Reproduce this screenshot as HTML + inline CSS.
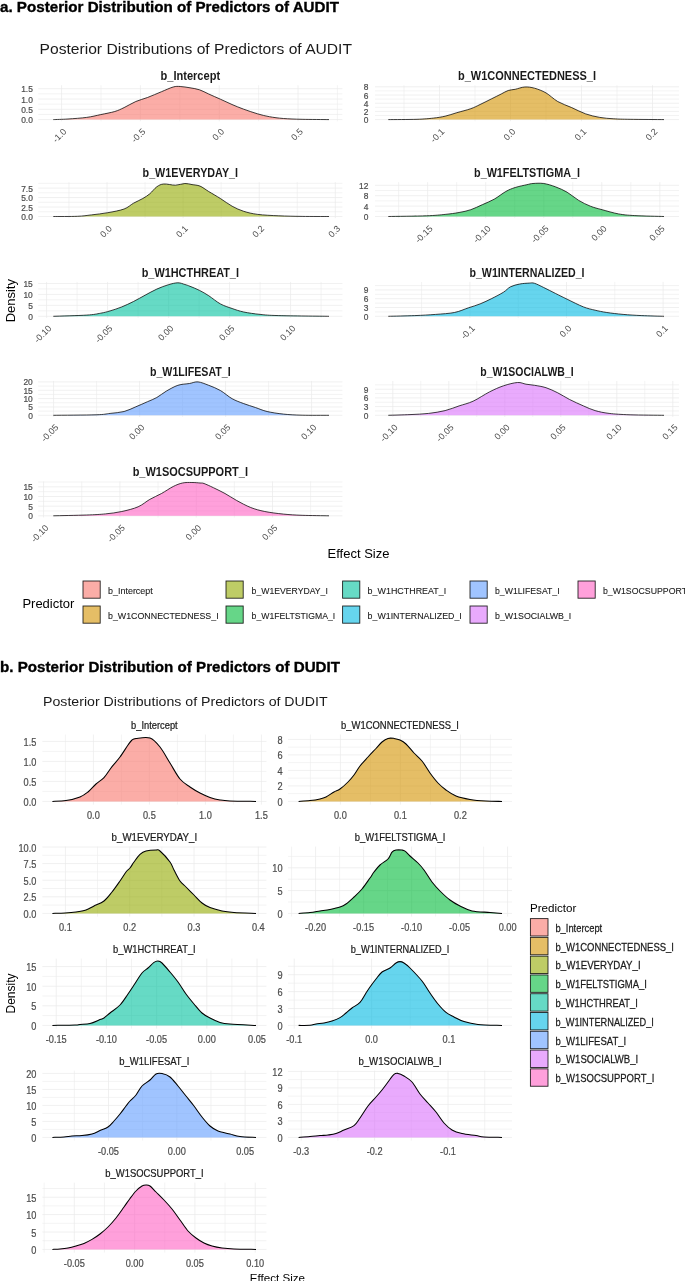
<!DOCTYPE html>
<html><head><meta charset="utf-8"><title>Posterior Distributions</title>
<style>html,body{margin:0;padding:0;background:#fff;width:685px;height:1281px;overflow:hidden}
svg{display:block;font-family:"Liberation Sans", sans-serif;filter:blur(0.3px)}</style></head>
<body>
<svg width="685" height="1281" viewBox="0 0 685 1281" font-family='"Liberation Sans", sans-serif'><line x1="61.6" y1="85.24" x2="61.6" y2="121.24" stroke="#EBEBEB" stroke-width="0.75"/>
<line x1="101" y1="85.24" x2="101" y2="121.24" stroke="#EBEBEB" stroke-width="0.6"/>
<line x1="140.4" y1="85.24" x2="140.4" y2="121.24" stroke="#EBEBEB" stroke-width="0.75"/>
<line x1="179.8" y1="85.24" x2="179.8" y2="121.24" stroke="#EBEBEB" stroke-width="0.6"/>
<line x1="219.2" y1="85.24" x2="219.2" y2="121.24" stroke="#EBEBEB" stroke-width="0.75"/>
<line x1="258.6" y1="85.24" x2="258.6" y2="121.24" stroke="#EBEBEB" stroke-width="0.6"/>
<line x1="298" y1="85.24" x2="298" y2="121.24" stroke="#EBEBEB" stroke-width="0.75"/>
<line x1="337.4" y1="85.24" x2="337.4" y2="121.24" stroke="#EBEBEB" stroke-width="0.6"/>
<line x1="38.2" y1="119.6" x2="342.4" y2="119.6" stroke="#EBEBEB" stroke-width="0.75"/>
<line x1="38.2" y1="114.45" x2="342.4" y2="114.45" stroke="#EBEBEB" stroke-width="0.6"/>
<line x1="38.2" y1="109.3" x2="342.4" y2="109.3" stroke="#EBEBEB" stroke-width="0.75"/>
<line x1="38.2" y1="104.15" x2="342.4" y2="104.15" stroke="#EBEBEB" stroke-width="0.6"/>
<line x1="38.2" y1="99" x2="342.4" y2="99" stroke="#EBEBEB" stroke-width="0.75"/>
<line x1="38.2" y1="93.85" x2="342.4" y2="93.85" stroke="#EBEBEB" stroke-width="0.6"/>
<line x1="38.2" y1="88.7" x2="342.4" y2="88.7" stroke="#EBEBEB" stroke-width="0.75"/>
<path d="M53.3,119.6 C55.75,119.5 62.43,119.37 68,119 C73.57,118.63 81.25,118.13 86.7,117.4 C92.15,116.67 96.02,115.58 100.7,114.6 C105.38,113.62 110.9,112.67 114.8,111.5 C118.7,110.33 120.6,109.27 124.1,107.6 C127.6,105.93 131.9,103.18 135.8,101.5 C139.7,99.82 143.22,99.13 147.5,97.5 C151.78,95.87 157.22,93.45 161.5,91.7 C165.78,89.95 170.08,87.87 173.2,87 C176.32,86.13 177.4,86.37 180.2,86.5 C183,86.63 186.78,87.25 190,87.8 C193.22,88.35 196.38,88.77 199.5,89.8 C202.62,90.83 205.22,92.43 208.7,94 C212.18,95.57 216.52,97.45 220.4,99.2 C224.28,100.95 228.12,102.83 232,104.5 C235.88,106.17 239.4,107.63 243.7,109.2 C248,110.77 253.52,112.65 257.8,113.9 C262.08,115.15 265.12,115.93 269.4,116.7 C273.68,117.47 278.05,118.07 283.5,118.5 C288.95,118.93 294.52,119.12 302.1,119.3 C309.68,119.48 324.52,119.55 329,119.6 L329,119.6 L53.3,119.6 Z" fill="#F8766D" fill-opacity="0.6" stroke="none"/>
<path d="M53.3,119.6 C55.75,119.5 62.43,119.37 68,119 C73.57,118.63 81.25,118.13 86.7,117.4 C92.15,116.67 96.02,115.58 100.7,114.6 C105.38,113.62 110.9,112.67 114.8,111.5 C118.7,110.33 120.6,109.27 124.1,107.6 C127.6,105.93 131.9,103.18 135.8,101.5 C139.7,99.82 143.22,99.13 147.5,97.5 C151.78,95.87 157.22,93.45 161.5,91.7 C165.78,89.95 170.08,87.87 173.2,87 C176.32,86.13 177.4,86.37 180.2,86.5 C183,86.63 186.78,87.25 190,87.8 C193.22,88.35 196.38,88.77 199.5,89.8 C202.62,90.83 205.22,92.43 208.7,94 C212.18,95.57 216.52,97.45 220.4,99.2 C224.28,100.95 228.12,102.83 232,104.5 C235.88,106.17 239.4,107.63 243.7,109.2 C248,110.77 253.52,112.65 257.8,113.9 C262.08,115.15 265.12,115.93 269.4,116.7 C273.68,117.47 278.05,118.07 283.5,118.5 C288.95,118.93 294.52,119.12 302.1,119.3 C309.68,119.48 324.52,119.55 329,119.6" fill="none" stroke="#000" stroke-width="0.75" stroke-linejoin="round"/>
<text transform="translate(190.3,79.94) scale(1,1.12)" x="0" y="0" font-size="11" text-anchor="middle" fill="#1A1A1A" font-weight="bold" textLength="59.7" lengthAdjust="spacingAndGlyphs">b_Intercept</text>
<text transform="translate(32.8,119.7) scale(1,1.13)" x="0" y="3.01" font-size="8.4" text-anchor="end" fill="#4D4D4D" font-weight="normal" stroke="#4D4D4D" stroke-width="0.2">0.0</text>
<text transform="translate(32.8,109.4) scale(1,1.13)" x="0" y="3.01" font-size="8.4" text-anchor="end" fill="#4D4D4D" font-weight="normal" stroke="#4D4D4D" stroke-width="0.2">0.5</text>
<text transform="translate(32.8,99.1) scale(1,1.13)" x="0" y="3.01" font-size="8.4" text-anchor="end" fill="#4D4D4D" font-weight="normal" stroke="#4D4D4D" stroke-width="0.2">1.0</text>
<text transform="translate(32.8,88.8) scale(1,1.13)" x="0" y="3.01" font-size="8.4" text-anchor="end" fill="#4D4D4D" font-weight="normal" stroke="#4D4D4D" stroke-width="0.2">1.5</text>
<text transform="translate(62.6,127.64) rotate(-45)" x="0" y="6.44" font-size="9" text-anchor="end" fill="#4D4D4D">-1.0</text>
<text transform="translate(141.4,127.64) rotate(-45)" x="0" y="6.44" font-size="9" text-anchor="end" fill="#4D4D4D">-0.5</text>
<text transform="translate(220.2,127.64) rotate(-45)" x="0" y="6.44" font-size="9" text-anchor="end" fill="#4D4D4D">0.0</text>
<text transform="translate(299,127.64) rotate(-45)" x="0" y="6.44" font-size="9" text-anchor="end" fill="#4D4D4D">0.5</text>
<line x1="404" y1="85.24" x2="404" y2="121.24" stroke="#EBEBEB" stroke-width="0.6"/>
<line x1="439.5" y1="85.24" x2="439.5" y2="121.24" stroke="#EBEBEB" stroke-width="0.75"/>
<line x1="475" y1="85.24" x2="475" y2="121.24" stroke="#EBEBEB" stroke-width="0.6"/>
<line x1="510.5" y1="85.24" x2="510.5" y2="121.24" stroke="#EBEBEB" stroke-width="0.75"/>
<line x1="546" y1="85.24" x2="546" y2="121.24" stroke="#EBEBEB" stroke-width="0.6"/>
<line x1="581.5" y1="85.24" x2="581.5" y2="121.24" stroke="#EBEBEB" stroke-width="0.75"/>
<line x1="617" y1="85.24" x2="617" y2="121.24" stroke="#EBEBEB" stroke-width="0.6"/>
<line x1="652.5" y1="85.24" x2="652.5" y2="121.24" stroke="#EBEBEB" stroke-width="0.75"/>
<line x1="375" y1="119.6" x2="679" y2="119.6" stroke="#EBEBEB" stroke-width="0.75"/>
<line x1="375" y1="115.5" x2="679" y2="115.5" stroke="#EBEBEB" stroke-width="0.6"/>
<line x1="375" y1="111.4" x2="679" y2="111.4" stroke="#EBEBEB" stroke-width="0.75"/>
<line x1="375" y1="107.3" x2="679" y2="107.3" stroke="#EBEBEB" stroke-width="0.6"/>
<line x1="375" y1="103.2" x2="679" y2="103.2" stroke="#EBEBEB" stroke-width="0.75"/>
<line x1="375" y1="99.1" x2="679" y2="99.1" stroke="#EBEBEB" stroke-width="0.6"/>
<line x1="375" y1="95" x2="679" y2="95" stroke="#EBEBEB" stroke-width="0.75"/>
<line x1="375" y1="90.9" x2="679" y2="90.9" stroke="#EBEBEB" stroke-width="0.6"/>
<line x1="375" y1="86.8" x2="679" y2="86.8" stroke="#EBEBEB" stroke-width="0.75"/>
<path d="M388.3,119.6 C393.08,119.55 409.48,119.55 417,119.3 C424.52,119.05 428.72,118.62 433.4,118.1 C438.08,117.58 441.2,117.1 445.1,116.2 C449,115.3 452.52,113.95 456.8,112.7 C461.08,111.45 466.92,110.07 470.8,108.7 C474.68,107.33 476.6,106.17 480.1,104.5 C483.6,102.83 488.28,100.45 491.8,98.7 C495.32,96.95 498.47,95.37 501.2,94 C503.93,92.63 505.87,91.28 508.2,90.5 C510.53,89.72 512.43,89.88 515.2,89.3 C517.97,88.72 521.58,87.18 524.8,87 C528.02,86.82 530.97,87.22 534.5,88.2 C538.03,89.18 542.13,90.68 546,92.9 C549.87,95.12 553.42,99.05 557.7,101.5 C561.98,103.95 567.03,105.53 571.7,107.6 C576.37,109.67 581.02,112.27 585.7,113.9 C590.38,115.53 595.12,116.58 599.8,117.4 C604.48,118.22 608.75,118.48 613.8,118.8 C618.85,119.12 621.73,119.17 630.1,119.3 C638.47,119.43 658.35,119.55 664,119.6 L664,119.6 L388.3,119.6 Z" fill="#D39200" fill-opacity="0.6" stroke="none"/>
<path d="M388.3,119.6 C393.08,119.55 409.48,119.55 417,119.3 C424.52,119.05 428.72,118.62 433.4,118.1 C438.08,117.58 441.2,117.1 445.1,116.2 C449,115.3 452.52,113.95 456.8,112.7 C461.08,111.45 466.92,110.07 470.8,108.7 C474.68,107.33 476.6,106.17 480.1,104.5 C483.6,102.83 488.28,100.45 491.8,98.7 C495.32,96.95 498.47,95.37 501.2,94 C503.93,92.63 505.87,91.28 508.2,90.5 C510.53,89.72 512.43,89.88 515.2,89.3 C517.97,88.72 521.58,87.18 524.8,87 C528.02,86.82 530.97,87.22 534.5,88.2 C538.03,89.18 542.13,90.68 546,92.9 C549.87,95.12 553.42,99.05 557.7,101.5 C561.98,103.95 567.03,105.53 571.7,107.6 C576.37,109.67 581.02,112.27 585.7,113.9 C590.38,115.53 595.12,116.58 599.8,117.4 C604.48,118.22 608.75,118.48 613.8,118.8 C618.85,119.12 621.73,119.17 630.1,119.3 C638.47,119.43 658.35,119.55 664,119.6" fill="none" stroke="#000" stroke-width="0.75" stroke-linejoin="round"/>
<text transform="translate(527,79.94) scale(1,1.12)" x="0" y="0" font-size="11" text-anchor="middle" fill="#1A1A1A" font-weight="bold" textLength="137.9" lengthAdjust="spacingAndGlyphs">b_W1CONNECTEDNESS_I</text>
<text transform="translate(368.4,119.7) scale(1,1.13)" x="0" y="3.01" font-size="8.4" text-anchor="end" fill="#4D4D4D" font-weight="normal" stroke="#4D4D4D" stroke-width="0.2">0</text>
<text transform="translate(368.4,111.5) scale(1,1.13)" x="0" y="3.01" font-size="8.4" text-anchor="end" fill="#4D4D4D" font-weight="normal" stroke="#4D4D4D" stroke-width="0.2">2</text>
<text transform="translate(368.4,103.3) scale(1,1.13)" x="0" y="3.01" font-size="8.4" text-anchor="end" fill="#4D4D4D" font-weight="normal" stroke="#4D4D4D" stroke-width="0.2">4</text>
<text transform="translate(368.4,95.1) scale(1,1.13)" x="0" y="3.01" font-size="8.4" text-anchor="end" fill="#4D4D4D" font-weight="normal" stroke="#4D4D4D" stroke-width="0.2">6</text>
<text transform="translate(368.4,86.9) scale(1,1.13)" x="0" y="3.01" font-size="8.4" text-anchor="end" fill="#4D4D4D" font-weight="normal" stroke="#4D4D4D" stroke-width="0.2">8</text>
<text transform="translate(440.5,127.64) rotate(-45)" x="0" y="6.44" font-size="9" text-anchor="end" fill="#4D4D4D">-0.1</text>
<text transform="translate(511.5,127.64) rotate(-45)" x="0" y="6.44" font-size="9" text-anchor="end" fill="#4D4D4D">0.0</text>
<text transform="translate(582.5,127.64) rotate(-45)" x="0" y="6.44" font-size="9" text-anchor="end" fill="#4D4D4D">0.1</text>
<text transform="translate(653.5,127.64) rotate(-45)" x="0" y="6.44" font-size="9" text-anchor="end" fill="#4D4D4D">0.2</text>
<line x1="68.95" y1="182.14" x2="68.95" y2="218.14" stroke="#EBEBEB" stroke-width="0.6"/>
<line x1="107" y1="182.14" x2="107" y2="218.14" stroke="#EBEBEB" stroke-width="0.75"/>
<line x1="145.05" y1="182.14" x2="145.05" y2="218.14" stroke="#EBEBEB" stroke-width="0.6"/>
<line x1="183.1" y1="182.14" x2="183.1" y2="218.14" stroke="#EBEBEB" stroke-width="0.75"/>
<line x1="221.15" y1="182.14" x2="221.15" y2="218.14" stroke="#EBEBEB" stroke-width="0.6"/>
<line x1="259.2" y1="182.14" x2="259.2" y2="218.14" stroke="#EBEBEB" stroke-width="0.75"/>
<line x1="297.25" y1="182.14" x2="297.25" y2="218.14" stroke="#EBEBEB" stroke-width="0.6"/>
<line x1="335.3" y1="182.14" x2="335.3" y2="218.14" stroke="#EBEBEB" stroke-width="0.75"/>
<line x1="38.2" y1="216.5" x2="342.4" y2="216.5" stroke="#EBEBEB" stroke-width="0.75"/>
<line x1="38.2" y1="211.76" x2="342.4" y2="211.76" stroke="#EBEBEB" stroke-width="0.6"/>
<line x1="38.2" y1="207.03" x2="342.4" y2="207.03" stroke="#EBEBEB" stroke-width="0.75"/>
<line x1="38.2" y1="202.29" x2="342.4" y2="202.29" stroke="#EBEBEB" stroke-width="0.6"/>
<line x1="38.2" y1="197.55" x2="342.4" y2="197.55" stroke="#EBEBEB" stroke-width="0.75"/>
<line x1="38.2" y1="192.81" x2="342.4" y2="192.81" stroke="#EBEBEB" stroke-width="0.6"/>
<line x1="38.2" y1="188.07" x2="342.4" y2="188.07" stroke="#EBEBEB" stroke-width="0.75"/>
<line x1="38.2" y1="183.34" x2="342.4" y2="183.34" stroke="#EBEBEB" stroke-width="0.6"/>
<path d="M53.3,216.5 C57.32,216.47 71.05,216.57 77.4,216.3 C83.75,216.03 86.33,215.5 91.4,214.9 C96.47,214.3 102.35,213.68 107.8,212.7 C113.25,211.72 119.82,210.58 124.1,209 C128.38,207.42 130.38,204.95 133.5,203.2 C136.62,201.45 140.08,200.07 142.8,198.5 C145.52,196.93 147.47,195.75 149.8,193.8 C152.13,191.85 154.47,188.43 156.8,186.8 C159.13,185.17 160.68,184.27 163.8,184 C166.92,183.73 171.98,185.28 175.5,185.2 C179.02,185.12 182.15,183.6 184.9,183.5 C187.65,183.4 189.48,184.17 192,184.6 C194.52,185.03 197.22,184.95 200,186.1 C202.78,187.25 205.3,189.43 208.7,191.5 C212.1,193.57 216.5,196.05 220.4,198.5 C224.3,200.95 228.22,204.07 232.1,206.2 C235.98,208.33 239.42,209.93 243.7,211.3 C247.98,212.67 251.95,213.65 257.8,214.4 C263.65,215.15 271.42,215.47 278.8,215.8 C286.18,216.13 293.73,216.28 302.1,216.4 C310.47,216.52 324.52,216.48 329,216.5 L329,216.5 L53.3,216.5 Z" fill="#93AA00" fill-opacity="0.6" stroke="none"/>
<path d="M53.3,216.5 C57.32,216.47 71.05,216.57 77.4,216.3 C83.75,216.03 86.33,215.5 91.4,214.9 C96.47,214.3 102.35,213.68 107.8,212.7 C113.25,211.72 119.82,210.58 124.1,209 C128.38,207.42 130.38,204.95 133.5,203.2 C136.62,201.45 140.08,200.07 142.8,198.5 C145.52,196.93 147.47,195.75 149.8,193.8 C152.13,191.85 154.47,188.43 156.8,186.8 C159.13,185.17 160.68,184.27 163.8,184 C166.92,183.73 171.98,185.28 175.5,185.2 C179.02,185.12 182.15,183.6 184.9,183.5 C187.65,183.4 189.48,184.17 192,184.6 C194.52,185.03 197.22,184.95 200,186.1 C202.78,187.25 205.3,189.43 208.7,191.5 C212.1,193.57 216.5,196.05 220.4,198.5 C224.3,200.95 228.22,204.07 232.1,206.2 C235.98,208.33 239.42,209.93 243.7,211.3 C247.98,212.67 251.95,213.65 257.8,214.4 C263.65,215.15 271.42,215.47 278.8,215.8 C286.18,216.13 293.73,216.28 302.1,216.4 C310.47,216.52 324.52,216.48 329,216.5" fill="none" stroke="#000" stroke-width="0.75" stroke-linejoin="round"/>
<text transform="translate(190.3,176.84) scale(1,1.12)" x="0" y="0" font-size="11" text-anchor="middle" fill="#1A1A1A" font-weight="bold" textLength="95.5" lengthAdjust="spacingAndGlyphs">b_W1EVERYDAY_I</text>
<text transform="translate(32.8,216.6) scale(1,1.13)" x="0" y="3.01" font-size="8.4" text-anchor="end" fill="#4D4D4D" font-weight="normal" stroke="#4D4D4D" stroke-width="0.2">0.0</text>
<text transform="translate(32.8,207.12) scale(1,1.13)" x="0" y="3.01" font-size="8.4" text-anchor="end" fill="#4D4D4D" font-weight="normal" stroke="#4D4D4D" stroke-width="0.2">2.5</text>
<text transform="translate(32.8,197.65) scale(1,1.13)" x="0" y="3.01" font-size="8.4" text-anchor="end" fill="#4D4D4D" font-weight="normal" stroke="#4D4D4D" stroke-width="0.2">5.0</text>
<text transform="translate(32.8,188.17) scale(1,1.13)" x="0" y="3.01" font-size="8.4" text-anchor="end" fill="#4D4D4D" font-weight="normal" stroke="#4D4D4D" stroke-width="0.2">7.5</text>
<text transform="translate(108,224.54) rotate(-45)" x="0" y="6.44" font-size="9" text-anchor="end" fill="#4D4D4D">0.0</text>
<text transform="translate(184.1,224.54) rotate(-45)" x="0" y="6.44" font-size="9" text-anchor="end" fill="#4D4D4D">0.1</text>
<text transform="translate(260.2,224.54) rotate(-45)" x="0" y="6.44" font-size="9" text-anchor="end" fill="#4D4D4D">0.2</text>
<text transform="translate(336.3,224.54) rotate(-45)" x="0" y="6.44" font-size="9" text-anchor="end" fill="#4D4D4D">0.3</text>
<line x1="398.62" y1="182.14" x2="398.62" y2="218.14" stroke="#EBEBEB" stroke-width="0.6"/>
<line x1="427.65" y1="182.14" x2="427.65" y2="218.14" stroke="#EBEBEB" stroke-width="0.75"/>
<line x1="456.67" y1="182.14" x2="456.67" y2="218.14" stroke="#EBEBEB" stroke-width="0.6"/>
<line x1="485.7" y1="182.14" x2="485.7" y2="218.14" stroke="#EBEBEB" stroke-width="0.75"/>
<line x1="514.72" y1="182.14" x2="514.72" y2="218.14" stroke="#EBEBEB" stroke-width="0.6"/>
<line x1="543.75" y1="182.14" x2="543.75" y2="218.14" stroke="#EBEBEB" stroke-width="0.75"/>
<line x1="572.77" y1="182.14" x2="572.77" y2="218.14" stroke="#EBEBEB" stroke-width="0.6"/>
<line x1="601.8" y1="182.14" x2="601.8" y2="218.14" stroke="#EBEBEB" stroke-width="0.75"/>
<line x1="630.82" y1="182.14" x2="630.82" y2="218.14" stroke="#EBEBEB" stroke-width="0.6"/>
<line x1="659.85" y1="182.14" x2="659.85" y2="218.14" stroke="#EBEBEB" stroke-width="0.75"/>
<line x1="375" y1="216.5" x2="679" y2="216.5" stroke="#EBEBEB" stroke-width="0.75"/>
<line x1="375" y1="211.3" x2="679" y2="211.3" stroke="#EBEBEB" stroke-width="0.6"/>
<line x1="375" y1="206.1" x2="679" y2="206.1" stroke="#EBEBEB" stroke-width="0.75"/>
<line x1="375" y1="200.9" x2="679" y2="200.9" stroke="#EBEBEB" stroke-width="0.6"/>
<line x1="375" y1="195.7" x2="679" y2="195.7" stroke="#EBEBEB" stroke-width="0.75"/>
<line x1="375" y1="190.5" x2="679" y2="190.5" stroke="#EBEBEB" stroke-width="0.6"/>
<line x1="375" y1="185.3" x2="679" y2="185.3" stroke="#EBEBEB" stroke-width="0.75"/>
<path d="M388.3,216.5 C394.65,216.38 416.93,216.15 426.4,215.8 C435.87,215.45 439.65,214.95 445.1,214.4 C450.55,213.85 454.82,213.28 459.1,212.5 C463.38,211.72 466.9,211.02 470.8,209.7 C474.7,208.38 478.6,206.35 482.5,204.6 C486.4,202.85 490.32,201.38 494.2,199.2 C498.08,197.02 502.3,193.45 505.8,191.5 C509.3,189.55 511.68,188.63 515.2,187.5 C518.72,186.37 523.93,185.37 526.9,184.7 C529.87,184.03 530.2,183.7 533,183.5 C535.8,183.3 539.97,182.95 543.7,183.5 C547.43,184.05 551.5,185.35 555.4,186.8 C559.3,188.25 563.22,189.93 567.1,192.2 C570.98,194.47 574.82,198.07 578.7,200.4 C582.58,202.73 586.5,204.65 590.4,206.2 C594.3,207.75 597.42,208.42 602.1,209.7 C606.78,210.98 613.05,212.92 618.5,213.9 C623.95,214.88 627.22,215.17 634.8,215.6 C642.38,216.03 659.13,216.35 664,216.5 L664,216.5 L388.3,216.5 Z" fill="#00BA38" fill-opacity="0.6" stroke="none"/>
<path d="M388.3,216.5 C394.65,216.38 416.93,216.15 426.4,215.8 C435.87,215.45 439.65,214.95 445.1,214.4 C450.55,213.85 454.82,213.28 459.1,212.5 C463.38,211.72 466.9,211.02 470.8,209.7 C474.7,208.38 478.6,206.35 482.5,204.6 C486.4,202.85 490.32,201.38 494.2,199.2 C498.08,197.02 502.3,193.45 505.8,191.5 C509.3,189.55 511.68,188.63 515.2,187.5 C518.72,186.37 523.93,185.37 526.9,184.7 C529.87,184.03 530.2,183.7 533,183.5 C535.8,183.3 539.97,182.95 543.7,183.5 C547.43,184.05 551.5,185.35 555.4,186.8 C559.3,188.25 563.22,189.93 567.1,192.2 C570.98,194.47 574.82,198.07 578.7,200.4 C582.58,202.73 586.5,204.65 590.4,206.2 C594.3,207.75 597.42,208.42 602.1,209.7 C606.78,210.98 613.05,212.92 618.5,213.9 C623.95,214.88 627.22,215.17 634.8,215.6 C642.38,216.03 659.13,216.35 664,216.5" fill="none" stroke="#000" stroke-width="0.75" stroke-linejoin="round"/>
<text transform="translate(527,176.84) scale(1,1.12)" x="0" y="0" font-size="11" text-anchor="middle" fill="#1A1A1A" font-weight="bold" textLength="105.9" lengthAdjust="spacingAndGlyphs">b_W1FELTSTIGMA_I</text>
<text transform="translate(368.4,216.6) scale(1,1.13)" x="0" y="3.01" font-size="8.4" text-anchor="end" fill="#4D4D4D" font-weight="normal" stroke="#4D4D4D" stroke-width="0.2">0</text>
<text transform="translate(368.4,206.2) scale(1,1.13)" x="0" y="3.01" font-size="8.4" text-anchor="end" fill="#4D4D4D" font-weight="normal" stroke="#4D4D4D" stroke-width="0.2">4</text>
<text transform="translate(368.4,195.8) scale(1,1.13)" x="0" y="3.01" font-size="8.4" text-anchor="end" fill="#4D4D4D" font-weight="normal" stroke="#4D4D4D" stroke-width="0.2">8</text>
<text transform="translate(368.4,185.4) scale(1,1.13)" x="0" y="3.01" font-size="8.4" text-anchor="end" fill="#4D4D4D" font-weight="normal" stroke="#4D4D4D" stroke-width="0.2">12</text>
<text transform="translate(428.65,224.54) rotate(-45)" x="0" y="6.44" font-size="9" text-anchor="end" fill="#4D4D4D">-0.15</text>
<text transform="translate(486.7,224.54) rotate(-45)" x="0" y="6.44" font-size="9" text-anchor="end" fill="#4D4D4D">-0.10</text>
<text transform="translate(544.75,224.54) rotate(-45)" x="0" y="6.44" font-size="9" text-anchor="end" fill="#4D4D4D">-0.05</text>
<text transform="translate(602.8,224.54) rotate(-45)" x="0" y="6.44" font-size="9" text-anchor="end" fill="#4D4D4D">0.00</text>
<text transform="translate(660.85,224.54) rotate(-45)" x="0" y="6.44" font-size="9" text-anchor="end" fill="#4D4D4D">0.05</text>
<line x1="46.6" y1="281.94" x2="46.6" y2="317.94" stroke="#EBEBEB" stroke-width="0.75"/>
<line x1="77.1" y1="281.94" x2="77.1" y2="317.94" stroke="#EBEBEB" stroke-width="0.6"/>
<line x1="107.6" y1="281.94" x2="107.6" y2="317.94" stroke="#EBEBEB" stroke-width="0.75"/>
<line x1="138.1" y1="281.94" x2="138.1" y2="317.94" stroke="#EBEBEB" stroke-width="0.6"/>
<line x1="168.6" y1="281.94" x2="168.6" y2="317.94" stroke="#EBEBEB" stroke-width="0.75"/>
<line x1="199.1" y1="281.94" x2="199.1" y2="317.94" stroke="#EBEBEB" stroke-width="0.6"/>
<line x1="229.6" y1="281.94" x2="229.6" y2="317.94" stroke="#EBEBEB" stroke-width="0.75"/>
<line x1="260.1" y1="281.94" x2="260.1" y2="317.94" stroke="#EBEBEB" stroke-width="0.6"/>
<line x1="290.6" y1="281.94" x2="290.6" y2="317.94" stroke="#EBEBEB" stroke-width="0.75"/>
<line x1="321.1" y1="281.94" x2="321.1" y2="317.94" stroke="#EBEBEB" stroke-width="0.6"/>
<line x1="38.2" y1="316.3" x2="342.4" y2="316.3" stroke="#EBEBEB" stroke-width="0.75"/>
<line x1="38.2" y1="310.82" x2="342.4" y2="310.82" stroke="#EBEBEB" stroke-width="0.6"/>
<line x1="38.2" y1="305.35" x2="342.4" y2="305.35" stroke="#EBEBEB" stroke-width="0.75"/>
<line x1="38.2" y1="299.88" x2="342.4" y2="299.88" stroke="#EBEBEB" stroke-width="0.6"/>
<line x1="38.2" y1="294.4" x2="342.4" y2="294.4" stroke="#EBEBEB" stroke-width="0.75"/>
<line x1="38.2" y1="288.93" x2="342.4" y2="288.93" stroke="#EBEBEB" stroke-width="0.6"/>
<line x1="38.2" y1="283.45" x2="342.4" y2="283.45" stroke="#EBEBEB" stroke-width="0.75"/>
<path d="M53.3,316.3 C58.87,316.1 78.8,315.62 86.7,315.1 C94.6,314.58 96.8,313.9 100.7,313.2 C104.6,312.5 106.58,311.95 110.1,310.9 C113.62,309.85 117.9,308.47 121.8,306.9 C125.7,305.33 129.62,303.45 133.5,301.5 C137.38,299.55 141.22,297.27 145.1,295.2 C148.98,293.13 152.9,290.85 156.8,289.1 C160.7,287.35 164.98,285.75 168.5,284.7 C172.02,283.65 175.17,282.83 177.9,282.8 C180.63,282.77 182.88,283.92 184.9,284.5 C186.92,285.08 187.57,285.32 190,286.3 C192.43,287.28 196.38,288.83 199.5,290.4 C202.62,291.97 205.22,293.45 208.7,295.7 C212.18,297.95 216.5,301.77 220.4,303.9 C224.3,306.03 228.22,307.15 232.1,308.5 C235.98,309.85 239.03,311.02 243.7,312 C248.37,312.98 254.25,313.8 260.1,314.4 C265.95,315 267.32,315.28 278.8,315.6 C290.28,315.92 320.63,316.18 329,316.3 L329,316.3 L53.3,316.3 Z" fill="#00C19F" fill-opacity="0.6" stroke="none"/>
<path d="M53.3,316.3 C58.87,316.1 78.8,315.62 86.7,315.1 C94.6,314.58 96.8,313.9 100.7,313.2 C104.6,312.5 106.58,311.95 110.1,310.9 C113.62,309.85 117.9,308.47 121.8,306.9 C125.7,305.33 129.62,303.45 133.5,301.5 C137.38,299.55 141.22,297.27 145.1,295.2 C148.98,293.13 152.9,290.85 156.8,289.1 C160.7,287.35 164.98,285.75 168.5,284.7 C172.02,283.65 175.17,282.83 177.9,282.8 C180.63,282.77 182.88,283.92 184.9,284.5 C186.92,285.08 187.57,285.32 190,286.3 C192.43,287.28 196.38,288.83 199.5,290.4 C202.62,291.97 205.22,293.45 208.7,295.7 C212.18,297.95 216.5,301.77 220.4,303.9 C224.3,306.03 228.22,307.15 232.1,308.5 C235.98,309.85 239.03,311.02 243.7,312 C248.37,312.98 254.25,313.8 260.1,314.4 C265.95,315 267.32,315.28 278.8,315.6 C290.28,315.92 320.63,316.18 329,316.3" fill="none" stroke="#000" stroke-width="0.75" stroke-linejoin="round"/>
<text transform="translate(190.3,276.64) scale(1,1.12)" x="0" y="0" font-size="11" text-anchor="middle" fill="#1A1A1A" font-weight="bold" textLength="97.3" lengthAdjust="spacingAndGlyphs">b_W1HCTHREAT_I</text>
<text transform="translate(32.8,316.4) scale(1,1.13)" x="0" y="3.01" font-size="8.4" text-anchor="end" fill="#4D4D4D" font-weight="normal" stroke="#4D4D4D" stroke-width="0.2">0</text>
<text transform="translate(32.8,305.45) scale(1,1.13)" x="0" y="3.01" font-size="8.4" text-anchor="end" fill="#4D4D4D" font-weight="normal" stroke="#4D4D4D" stroke-width="0.2">5</text>
<text transform="translate(32.8,294.5) scale(1,1.13)" x="0" y="3.01" font-size="8.4" text-anchor="end" fill="#4D4D4D" font-weight="normal" stroke="#4D4D4D" stroke-width="0.2">10</text>
<text transform="translate(32.8,283.55) scale(1,1.13)" x="0" y="3.01" font-size="8.4" text-anchor="end" fill="#4D4D4D" font-weight="normal" stroke="#4D4D4D" stroke-width="0.2">15</text>
<text transform="translate(47.6,324.34) rotate(-45)" x="0" y="6.44" font-size="9" text-anchor="end" fill="#4D4D4D">-0.10</text>
<text transform="translate(108.6,324.34) rotate(-45)" x="0" y="6.44" font-size="9" text-anchor="end" fill="#4D4D4D">-0.05</text>
<text transform="translate(169.6,324.34) rotate(-45)" x="0" y="6.44" font-size="9" text-anchor="end" fill="#4D4D4D">0.00</text>
<text transform="translate(230.6,324.34) rotate(-45)" x="0" y="6.44" font-size="9" text-anchor="end" fill="#4D4D4D">0.05</text>
<text transform="translate(291.6,324.34) rotate(-45)" x="0" y="6.44" font-size="9" text-anchor="end" fill="#4D4D4D">0.10</text>
<line x1="421.6" y1="281.94" x2="421.6" y2="317.94" stroke="#EBEBEB" stroke-width="0.6"/>
<line x1="469.9" y1="281.94" x2="469.9" y2="317.94" stroke="#EBEBEB" stroke-width="0.75"/>
<line x1="518.2" y1="281.94" x2="518.2" y2="317.94" stroke="#EBEBEB" stroke-width="0.6"/>
<line x1="566.5" y1="281.94" x2="566.5" y2="317.94" stroke="#EBEBEB" stroke-width="0.75"/>
<line x1="614.8" y1="281.94" x2="614.8" y2="317.94" stroke="#EBEBEB" stroke-width="0.6"/>
<line x1="663.1" y1="281.94" x2="663.1" y2="317.94" stroke="#EBEBEB" stroke-width="0.75"/>
<line x1="375" y1="316.3" x2="679" y2="316.3" stroke="#EBEBEB" stroke-width="0.75"/>
<line x1="375" y1="311.91" x2="679" y2="311.91" stroke="#EBEBEB" stroke-width="0.6"/>
<line x1="375" y1="307.51" x2="679" y2="307.51" stroke="#EBEBEB" stroke-width="0.75"/>
<line x1="375" y1="303.12" x2="679" y2="303.12" stroke="#EBEBEB" stroke-width="0.6"/>
<line x1="375" y1="298.72" x2="679" y2="298.72" stroke="#EBEBEB" stroke-width="0.75"/>
<line x1="375" y1="294.32" x2="679" y2="294.32" stroke="#EBEBEB" stroke-width="0.6"/>
<line x1="375" y1="289.93" x2="679" y2="289.93" stroke="#EBEBEB" stroke-width="0.75"/>
<line x1="375" y1="285.54" x2="679" y2="285.54" stroke="#EBEBEB" stroke-width="0.6"/>
<path d="M388.3,316.3 C392.7,316.18 406.8,315.92 414.7,315.6 C422.6,315.28 429.08,314.92 435.7,314.4 C442.32,313.88 448.93,313.6 454.4,312.5 C459.87,311.4 464.22,309.23 468.5,307.8 C472.78,306.37 476.22,305.45 480.1,303.9 C483.98,302.35 487.9,300.45 491.8,298.5 C495.7,296.55 500.38,294.15 503.5,292.2 C506.62,290.25 507.77,288.17 510.5,286.8 C513.23,285.43 516.78,284.62 519.9,284 C523.02,283.38 526.77,283.22 529.2,283.1 C531.63,282.98 532.08,282.57 534.5,283.3 C536.92,284.03 540.22,285.82 543.7,287.5 C547.18,289.18 551.5,291.45 555.4,293.4 C559.3,295.35 562.43,296.95 567.1,299.2 C571.77,301.45 578.73,305.07 583.4,306.9 C588.07,308.73 591.2,309.27 595.1,310.2 C599,311.13 602.13,311.8 606.8,312.5 C611.47,313.2 617.27,313.88 623.1,314.4 C628.93,314.92 634.98,315.28 641.8,315.6 C648.62,315.92 660.3,316.18 664,316.3 L664,316.3 L388.3,316.3 Z" fill="#00B9E3" fill-opacity="0.6" stroke="none"/>
<path d="M388.3,316.3 C392.7,316.18 406.8,315.92 414.7,315.6 C422.6,315.28 429.08,314.92 435.7,314.4 C442.32,313.88 448.93,313.6 454.4,312.5 C459.87,311.4 464.22,309.23 468.5,307.8 C472.78,306.37 476.22,305.45 480.1,303.9 C483.98,302.35 487.9,300.45 491.8,298.5 C495.7,296.55 500.38,294.15 503.5,292.2 C506.62,290.25 507.77,288.17 510.5,286.8 C513.23,285.43 516.78,284.62 519.9,284 C523.02,283.38 526.77,283.22 529.2,283.1 C531.63,282.98 532.08,282.57 534.5,283.3 C536.92,284.03 540.22,285.82 543.7,287.5 C547.18,289.18 551.5,291.45 555.4,293.4 C559.3,295.35 562.43,296.95 567.1,299.2 C571.77,301.45 578.73,305.07 583.4,306.9 C588.07,308.73 591.2,309.27 595.1,310.2 C599,311.13 602.13,311.8 606.8,312.5 C611.47,313.2 617.27,313.88 623.1,314.4 C628.93,314.92 634.98,315.28 641.8,315.6 C648.62,315.92 660.3,316.18 664,316.3" fill="none" stroke="#000" stroke-width="0.75" stroke-linejoin="round"/>
<text transform="translate(527,276.64) scale(1,1.12)" x="0" y="0" font-size="11" text-anchor="middle" fill="#1A1A1A" font-weight="bold" textLength="115.1" lengthAdjust="spacingAndGlyphs">b_W1INTERNALIZED_I</text>
<text transform="translate(368.4,316.4) scale(1,1.13)" x="0" y="3.01" font-size="8.4" text-anchor="end" fill="#4D4D4D" font-weight="normal" stroke="#4D4D4D" stroke-width="0.2">0</text>
<text transform="translate(368.4,307.61) scale(1,1.13)" x="0" y="3.01" font-size="8.4" text-anchor="end" fill="#4D4D4D" font-weight="normal" stroke="#4D4D4D" stroke-width="0.2">3</text>
<text transform="translate(368.4,298.82) scale(1,1.13)" x="0" y="3.01" font-size="8.4" text-anchor="end" fill="#4D4D4D" font-weight="normal" stroke="#4D4D4D" stroke-width="0.2">6</text>
<text transform="translate(368.4,290.03) scale(1,1.13)" x="0" y="3.01" font-size="8.4" text-anchor="end" fill="#4D4D4D" font-weight="normal" stroke="#4D4D4D" stroke-width="0.2">9</text>
<text transform="translate(470.9,324.34) rotate(-45)" x="0" y="6.44" font-size="9" text-anchor="end" fill="#4D4D4D">-0.1</text>
<text transform="translate(567.5,324.34) rotate(-45)" x="0" y="6.44" font-size="9" text-anchor="end" fill="#4D4D4D">0.0</text>
<text transform="translate(664.1,324.34) rotate(-45)" x="0" y="6.44" font-size="9" text-anchor="end" fill="#4D4D4D">0.1</text>
<line x1="53.6" y1="380.94" x2="53.6" y2="416.94" stroke="#EBEBEB" stroke-width="0.75"/>
<line x1="96.6" y1="380.94" x2="96.6" y2="416.94" stroke="#EBEBEB" stroke-width="0.6"/>
<line x1="139.6" y1="380.94" x2="139.6" y2="416.94" stroke="#EBEBEB" stroke-width="0.75"/>
<line x1="182.6" y1="380.94" x2="182.6" y2="416.94" stroke="#EBEBEB" stroke-width="0.6"/>
<line x1="225.6" y1="380.94" x2="225.6" y2="416.94" stroke="#EBEBEB" stroke-width="0.75"/>
<line x1="268.6" y1="380.94" x2="268.6" y2="416.94" stroke="#EBEBEB" stroke-width="0.6"/>
<line x1="311.6" y1="380.94" x2="311.6" y2="416.94" stroke="#EBEBEB" stroke-width="0.75"/>
<line x1="38.2" y1="415.3" x2="342.4" y2="415.3" stroke="#EBEBEB" stroke-width="0.75"/>
<line x1="38.2" y1="411.12" x2="342.4" y2="411.12" stroke="#EBEBEB" stroke-width="0.6"/>
<line x1="38.2" y1="406.95" x2="342.4" y2="406.95" stroke="#EBEBEB" stroke-width="0.75"/>
<line x1="38.2" y1="402.78" x2="342.4" y2="402.78" stroke="#EBEBEB" stroke-width="0.6"/>
<line x1="38.2" y1="398.6" x2="342.4" y2="398.6" stroke="#EBEBEB" stroke-width="0.75"/>
<line x1="38.2" y1="394.43" x2="342.4" y2="394.43" stroke="#EBEBEB" stroke-width="0.6"/>
<line x1="38.2" y1="390.25" x2="342.4" y2="390.25" stroke="#EBEBEB" stroke-width="0.75"/>
<line x1="38.2" y1="386.07" x2="342.4" y2="386.07" stroke="#EBEBEB" stroke-width="0.6"/>
<line x1="38.2" y1="381.9" x2="342.4" y2="381.9" stroke="#EBEBEB" stroke-width="0.75"/>
<path d="M53.3,415.3 C60.43,415.22 86.63,415.12 96.1,414.8 C105.57,414.48 105.43,413.95 110.1,413.4 C114.77,412.85 119.82,412.6 124.1,411.5 C128.38,410.4 131.9,408.43 135.8,406.8 C139.7,405.17 144,403.25 147.5,401.7 C151,400.15 153.68,399.25 156.8,397.5 C159.92,395.75 162.68,393.23 166.2,391.2 C169.72,389.17 174.02,386.58 177.9,385.3 C181.78,384.02 186.15,384.07 189.5,383.5 C192.85,382.93 194.8,381.6 198,381.9 C201.2,382.2 204.97,383.87 208.7,385.3 C212.43,386.73 216.5,388.27 220.4,390.5 C224.3,392.73 228.22,396.52 232.1,398.7 C235.98,400.88 239.82,402.13 243.7,403.6 C247.58,405.07 251.5,406.18 255.4,407.5 C259.3,408.82 262.42,410.4 267.1,411.5 C271.78,412.6 277.67,413.48 283.5,414.1 C289.33,414.72 294.52,415 302.1,415.2 C309.68,415.4 324.52,415.28 329,415.3 L329,415.3 L53.3,415.3 Z" fill="#619CFF" fill-opacity="0.6" stroke="none"/>
<path d="M53.3,415.3 C60.43,415.22 86.63,415.12 96.1,414.8 C105.57,414.48 105.43,413.95 110.1,413.4 C114.77,412.85 119.82,412.6 124.1,411.5 C128.38,410.4 131.9,408.43 135.8,406.8 C139.7,405.17 144,403.25 147.5,401.7 C151,400.15 153.68,399.25 156.8,397.5 C159.92,395.75 162.68,393.23 166.2,391.2 C169.72,389.17 174.02,386.58 177.9,385.3 C181.78,384.02 186.15,384.07 189.5,383.5 C192.85,382.93 194.8,381.6 198,381.9 C201.2,382.2 204.97,383.87 208.7,385.3 C212.43,386.73 216.5,388.27 220.4,390.5 C224.3,392.73 228.22,396.52 232.1,398.7 C235.98,400.88 239.82,402.13 243.7,403.6 C247.58,405.07 251.5,406.18 255.4,407.5 C259.3,408.82 262.42,410.4 267.1,411.5 C271.78,412.6 277.67,413.48 283.5,414.1 C289.33,414.72 294.52,415 302.1,415.2 C309.68,415.4 324.52,415.28 329,415.3" fill="none" stroke="#000" stroke-width="0.75" stroke-linejoin="round"/>
<text transform="translate(190.3,375.64) scale(1,1.12)" x="0" y="0" font-size="11" text-anchor="middle" fill="#1A1A1A" font-weight="bold" textLength="80.7" lengthAdjust="spacingAndGlyphs">b_W1LIFESAT_I</text>
<text transform="translate(32.8,415.4) scale(1,1.13)" x="0" y="3.01" font-size="8.4" text-anchor="end" fill="#4D4D4D" font-weight="normal" stroke="#4D4D4D" stroke-width="0.2">0</text>
<text transform="translate(32.8,407.05) scale(1,1.13)" x="0" y="3.01" font-size="8.4" text-anchor="end" fill="#4D4D4D" font-weight="normal" stroke="#4D4D4D" stroke-width="0.2">5</text>
<text transform="translate(32.8,398.7) scale(1,1.13)" x="0" y="3.01" font-size="8.4" text-anchor="end" fill="#4D4D4D" font-weight="normal" stroke="#4D4D4D" stroke-width="0.2">10</text>
<text transform="translate(32.8,390.35) scale(1,1.13)" x="0" y="3.01" font-size="8.4" text-anchor="end" fill="#4D4D4D" font-weight="normal" stroke="#4D4D4D" stroke-width="0.2">15</text>
<text transform="translate(32.8,382) scale(1,1.13)" x="0" y="3.01" font-size="8.4" text-anchor="end" fill="#4D4D4D" font-weight="normal" stroke="#4D4D4D" stroke-width="0.2">20</text>
<text transform="translate(54.6,423.34) rotate(-45)" x="0" y="6.44" font-size="9" text-anchor="end" fill="#4D4D4D">-0.05</text>
<text transform="translate(140.6,423.34) rotate(-45)" x="0" y="6.44" font-size="9" text-anchor="end" fill="#4D4D4D">0.00</text>
<text transform="translate(226.6,423.34) rotate(-45)" x="0" y="6.44" font-size="9" text-anchor="end" fill="#4D4D4D">0.05</text>
<text transform="translate(312.6,423.34) rotate(-45)" x="0" y="6.44" font-size="9" text-anchor="end" fill="#4D4D4D">0.10</text>
<line x1="392.8" y1="380.94" x2="392.8" y2="416.94" stroke="#EBEBEB" stroke-width="0.75"/>
<line x1="420.8" y1="380.94" x2="420.8" y2="416.94" stroke="#EBEBEB" stroke-width="0.6"/>
<line x1="448.8" y1="380.94" x2="448.8" y2="416.94" stroke="#EBEBEB" stroke-width="0.75"/>
<line x1="476.8" y1="380.94" x2="476.8" y2="416.94" stroke="#EBEBEB" stroke-width="0.6"/>
<line x1="504.8" y1="380.94" x2="504.8" y2="416.94" stroke="#EBEBEB" stroke-width="0.75"/>
<line x1="532.8" y1="380.94" x2="532.8" y2="416.94" stroke="#EBEBEB" stroke-width="0.6"/>
<line x1="560.8" y1="380.94" x2="560.8" y2="416.94" stroke="#EBEBEB" stroke-width="0.75"/>
<line x1="588.8" y1="380.94" x2="588.8" y2="416.94" stroke="#EBEBEB" stroke-width="0.6"/>
<line x1="616.8" y1="380.94" x2="616.8" y2="416.94" stroke="#EBEBEB" stroke-width="0.75"/>
<line x1="644.8" y1="380.94" x2="644.8" y2="416.94" stroke="#EBEBEB" stroke-width="0.6"/>
<line x1="672.8" y1="380.94" x2="672.8" y2="416.94" stroke="#EBEBEB" stroke-width="0.75"/>
<line x1="375" y1="415.3" x2="679" y2="415.3" stroke="#EBEBEB" stroke-width="0.75"/>
<line x1="375" y1="410.95" x2="679" y2="410.95" stroke="#EBEBEB" stroke-width="0.6"/>
<line x1="375" y1="406.6" x2="679" y2="406.6" stroke="#EBEBEB" stroke-width="0.75"/>
<line x1="375" y1="402.25" x2="679" y2="402.25" stroke="#EBEBEB" stroke-width="0.6"/>
<line x1="375" y1="397.9" x2="679" y2="397.9" stroke="#EBEBEB" stroke-width="0.75"/>
<line x1="375" y1="393.55" x2="679" y2="393.55" stroke="#EBEBEB" stroke-width="0.6"/>
<line x1="375" y1="389.2" x2="679" y2="389.2" stroke="#EBEBEB" stroke-width="0.75"/>
<line x1="375" y1="384.85" x2="679" y2="384.85" stroke="#EBEBEB" stroke-width="0.6"/>
<path d="M388.3,415.3 C391.92,415.18 403.27,414.92 410,414.6 C416.73,414.28 422.85,414.07 428.7,413.4 C434.55,412.73 440.03,411.85 445.1,410.6 C450.17,409.35 454.43,407.47 459.1,405.9 C463.77,404.33 468.03,403.53 473.1,401.2 C478.17,398.87 484.43,394.47 489.5,391.9 C494.57,389.33 498.83,387.37 503.5,385.8 C508.17,384.23 513.75,382.77 517.5,382.5 C521.25,382.23 523.17,383.73 526,384.2 C528.83,384.67 531.17,384.72 534.5,385.3 C537.83,385.88 542.13,386.45 546,387.7 C549.87,388.95 553.8,390.85 557.7,392.8 C561.6,394.75 565.12,397.22 569.4,399.4 C573.68,401.58 579.12,404.03 583.4,405.9 C587.68,407.77 590.82,409.35 595.1,410.6 C599.38,411.85 603.27,412.7 609.1,413.4 C614.93,414.1 620.95,414.48 630.1,414.8 C639.25,415.12 658.35,415.22 664,415.3 L664,415.3 L388.3,415.3 Z" fill="#DB72FB" fill-opacity="0.6" stroke="none"/>
<path d="M388.3,415.3 C391.92,415.18 403.27,414.92 410,414.6 C416.73,414.28 422.85,414.07 428.7,413.4 C434.55,412.73 440.03,411.85 445.1,410.6 C450.17,409.35 454.43,407.47 459.1,405.9 C463.77,404.33 468.03,403.53 473.1,401.2 C478.17,398.87 484.43,394.47 489.5,391.9 C494.57,389.33 498.83,387.37 503.5,385.8 C508.17,384.23 513.75,382.77 517.5,382.5 C521.25,382.23 523.17,383.73 526,384.2 C528.83,384.67 531.17,384.72 534.5,385.3 C537.83,385.88 542.13,386.45 546,387.7 C549.87,388.95 553.8,390.85 557.7,392.8 C561.6,394.75 565.12,397.22 569.4,399.4 C573.68,401.58 579.12,404.03 583.4,405.9 C587.68,407.77 590.82,409.35 595.1,410.6 C599.38,411.85 603.27,412.7 609.1,413.4 C614.93,414.1 620.95,414.48 630.1,414.8 C639.25,415.12 658.35,415.22 664,415.3" fill="none" stroke="#000" stroke-width="0.75" stroke-linejoin="round"/>
<text transform="translate(527,375.64) scale(1,1.12)" x="0" y="0" font-size="11" text-anchor="middle" fill="#1A1A1A" font-weight="bold" textLength="93.3" lengthAdjust="spacingAndGlyphs">b_W1SOCIALWB_I</text>
<text transform="translate(368.4,415.4) scale(1,1.13)" x="0" y="3.01" font-size="8.4" text-anchor="end" fill="#4D4D4D" font-weight="normal" stroke="#4D4D4D" stroke-width="0.2">0</text>
<text transform="translate(368.4,406.7) scale(1,1.13)" x="0" y="3.01" font-size="8.4" text-anchor="end" fill="#4D4D4D" font-weight="normal" stroke="#4D4D4D" stroke-width="0.2">3</text>
<text transform="translate(368.4,398) scale(1,1.13)" x="0" y="3.01" font-size="8.4" text-anchor="end" fill="#4D4D4D" font-weight="normal" stroke="#4D4D4D" stroke-width="0.2">6</text>
<text transform="translate(368.4,389.3) scale(1,1.13)" x="0" y="3.01" font-size="8.4" text-anchor="end" fill="#4D4D4D" font-weight="normal" stroke="#4D4D4D" stroke-width="0.2">9</text>
<text transform="translate(393.8,423.34) rotate(-45)" x="0" y="6.44" font-size="9" text-anchor="end" fill="#4D4D4D">-0.10</text>
<text transform="translate(449.8,423.34) rotate(-45)" x="0" y="6.44" font-size="9" text-anchor="end" fill="#4D4D4D">-0.05</text>
<text transform="translate(505.8,423.34) rotate(-45)" x="0" y="6.44" font-size="9" text-anchor="end" fill="#4D4D4D">0.00</text>
<text transform="translate(561.8,423.34) rotate(-45)" x="0" y="6.44" font-size="9" text-anchor="end" fill="#4D4D4D">0.05</text>
<text transform="translate(617.8,423.34) rotate(-45)" x="0" y="6.44" font-size="9" text-anchor="end" fill="#4D4D4D">0.10</text>
<text transform="translate(673.8,423.34) rotate(-45)" x="0" y="6.44" font-size="9" text-anchor="end" fill="#4D4D4D">0.15</text>
<line x1="43.6" y1="481.44" x2="43.6" y2="517.44" stroke="#EBEBEB" stroke-width="0.75"/>
<line x1="81.75" y1="481.44" x2="81.75" y2="517.44" stroke="#EBEBEB" stroke-width="0.6"/>
<line x1="119.9" y1="481.44" x2="119.9" y2="517.44" stroke="#EBEBEB" stroke-width="0.75"/>
<line x1="158.05" y1="481.44" x2="158.05" y2="517.44" stroke="#EBEBEB" stroke-width="0.6"/>
<line x1="196.2" y1="481.44" x2="196.2" y2="517.44" stroke="#EBEBEB" stroke-width="0.75"/>
<line x1="234.35" y1="481.44" x2="234.35" y2="517.44" stroke="#EBEBEB" stroke-width="0.6"/>
<line x1="272.5" y1="481.44" x2="272.5" y2="517.44" stroke="#EBEBEB" stroke-width="0.75"/>
<line x1="310.65" y1="481.44" x2="310.65" y2="517.44" stroke="#EBEBEB" stroke-width="0.6"/>
<line x1="38.2" y1="515.8" x2="342.4" y2="515.8" stroke="#EBEBEB" stroke-width="0.75"/>
<line x1="38.2" y1="510.97" x2="342.4" y2="510.97" stroke="#EBEBEB" stroke-width="0.6"/>
<line x1="38.2" y1="506.15" x2="342.4" y2="506.15" stroke="#EBEBEB" stroke-width="0.75"/>
<line x1="38.2" y1="501.32" x2="342.4" y2="501.32" stroke="#EBEBEB" stroke-width="0.6"/>
<line x1="38.2" y1="496.5" x2="342.4" y2="496.5" stroke="#EBEBEB" stroke-width="0.75"/>
<line x1="38.2" y1="491.67" x2="342.4" y2="491.67" stroke="#EBEBEB" stroke-width="0.6"/>
<line x1="38.2" y1="486.85" x2="342.4" y2="486.85" stroke="#EBEBEB" stroke-width="0.75"/>
<line x1="38.2" y1="482.02" x2="342.4" y2="482.02" stroke="#EBEBEB" stroke-width="0.6"/>
<path d="M53.3,515.8 C58.87,515.67 78.02,515.32 86.7,515 C95.38,514.68 99.55,514.48 105.4,513.9 C111.25,513.32 116.35,512.68 121.8,511.5 C127.25,510.32 133.43,508.82 138.1,506.8 C142.77,504.78 145.9,501.62 149.8,499.4 C153.7,497.18 157.6,495.65 161.5,493.5 C165.4,491.35 169.7,488.25 173.2,486.5 C176.7,484.75 179.38,483.67 182.5,483 C185.62,482.33 188.98,482.5 191.9,482.5 C194.82,482.5 197.98,482.83 200,483 C202.02,483.17 201.77,482.72 204,483.5 C206.23,484.28 209.9,486.03 213.4,487.7 C216.9,489.37 221.12,491.37 225,493.5 C228.88,495.63 232.42,498.17 236.7,500.5 C240.98,502.83 246.02,505.67 250.7,507.5 C255.38,509.33 259.33,510.4 264.8,511.5 C270.27,512.6 277.28,513.47 283.5,514.1 C289.72,514.73 294.52,515.02 302.1,515.3 C309.68,515.58 324.52,515.72 329,515.8 L329,515.8 L53.3,515.8 Z" fill="#FF61C3" fill-opacity="0.6" stroke="none"/>
<path d="M53.3,515.8 C58.87,515.67 78.02,515.32 86.7,515 C95.38,514.68 99.55,514.48 105.4,513.9 C111.25,513.32 116.35,512.68 121.8,511.5 C127.25,510.32 133.43,508.82 138.1,506.8 C142.77,504.78 145.9,501.62 149.8,499.4 C153.7,497.18 157.6,495.65 161.5,493.5 C165.4,491.35 169.7,488.25 173.2,486.5 C176.7,484.75 179.38,483.67 182.5,483 C185.62,482.33 188.98,482.5 191.9,482.5 C194.82,482.5 197.98,482.83 200,483 C202.02,483.17 201.77,482.72 204,483.5 C206.23,484.28 209.9,486.03 213.4,487.7 C216.9,489.37 221.12,491.37 225,493.5 C228.88,495.63 232.42,498.17 236.7,500.5 C240.98,502.83 246.02,505.67 250.7,507.5 C255.38,509.33 259.33,510.4 264.8,511.5 C270.27,512.6 277.28,513.47 283.5,514.1 C289.72,514.73 294.52,515.02 302.1,515.3 C309.68,515.58 324.52,515.72 329,515.8" fill="none" stroke="#000" stroke-width="0.75" stroke-linejoin="round"/>
<text transform="translate(190.3,476.14) scale(1,1.12)" x="0" y="0" font-size="11" text-anchor="middle" fill="#1A1A1A" font-weight="bold" textLength="115.3" lengthAdjust="spacingAndGlyphs">b_W1SOCSUPPORT_I</text>
<text transform="translate(32.8,515.9) scale(1,1.13)" x="0" y="3.01" font-size="8.4" text-anchor="end" fill="#4D4D4D" font-weight="normal" stroke="#4D4D4D" stroke-width="0.2">0</text>
<text transform="translate(32.8,506.25) scale(1,1.13)" x="0" y="3.01" font-size="8.4" text-anchor="end" fill="#4D4D4D" font-weight="normal" stroke="#4D4D4D" stroke-width="0.2">5</text>
<text transform="translate(32.8,496.6) scale(1,1.13)" x="0" y="3.01" font-size="8.4" text-anchor="end" fill="#4D4D4D" font-weight="normal" stroke="#4D4D4D" stroke-width="0.2">10</text>
<text transform="translate(32.8,486.95) scale(1,1.13)" x="0" y="3.01" font-size="8.4" text-anchor="end" fill="#4D4D4D" font-weight="normal" stroke="#4D4D4D" stroke-width="0.2">15</text>
<text transform="translate(44.6,523.84) rotate(-45)" x="0" y="6.44" font-size="9" text-anchor="end" fill="#4D4D4D">-0.10</text>
<text transform="translate(120.9,523.84) rotate(-45)" x="0" y="6.44" font-size="9" text-anchor="end" fill="#4D4D4D">-0.05</text>
<text transform="translate(197.2,523.84) rotate(-45)" x="0" y="6.44" font-size="9" text-anchor="end" fill="#4D4D4D">0.00</text>
<text transform="translate(273.5,523.84) rotate(-45)" x="0" y="6.44" font-size="9" text-anchor="end" fill="#4D4D4D">0.05</text>
<text x="0" y="11.9" font-size="15" text-anchor="start" fill="#000" font-weight="bold" textLength="339" lengthAdjust="spacingAndGlyphs" stroke="#000" stroke-width="0.35">a. Posterior Distribution of Predictors of AUDIT</text>
<text x="39.6" y="54.4" font-size="14" text-anchor="start" fill="#1A1A1A" font-weight="normal" textLength="312.4" lengthAdjust="spacingAndGlyphs">Posterior Distributions of Predictors of AUDIT</text>
<text transform="translate(15,300.7) rotate(-90)" x="0" y="0" font-size="13" text-anchor="middle" fill="#000">Density</text>
<text x="358.5" y="558" font-size="13" text-anchor="middle" fill="#000" font-weight="normal">Effect Size</text>
<text x="22.4" y="608" font-size="13" text-anchor="start" fill="#000" font-weight="normal">Predictor</text>
<rect x="83" y="581" width="17.2" height="17.2" fill="#F8766D" fill-opacity="0.6" stroke="#000" stroke-opacity="0.85" stroke-width="0.9"/>
<text transform="translate(108,593.9) scale(1,1.08)" x="0" y="0" font-size="9" text-anchor="start" fill="#1A1A1A" font-weight="normal" textLength="44.8" lengthAdjust="spacingAndGlyphs" stroke="#1A1A1A" stroke-width="0.1">b_Intercept</text>
<rect x="83" y="606" width="17.2" height="17.2" fill="#D39200" fill-opacity="0.6" stroke="#000" stroke-opacity="0.85" stroke-width="0.9"/>
<text transform="translate(108,618.9) scale(1,1.08)" x="0" y="0" font-size="9" text-anchor="start" fill="#1A1A1A" font-weight="normal" textLength="110.6" lengthAdjust="spacingAndGlyphs" stroke="#1A1A1A" stroke-width="0.1">b_W1CONNECTEDNESS_I</text>
<rect x="226" y="581" width="17.2" height="17.2" fill="#93AA00" fill-opacity="0.6" stroke="#000" stroke-opacity="0.85" stroke-width="0.9"/>
<text transform="translate(251.6,593.9) scale(1,1.08)" x="0" y="0" font-size="9" text-anchor="start" fill="#1A1A1A" font-weight="normal" textLength="76.2" lengthAdjust="spacingAndGlyphs" stroke="#1A1A1A" stroke-width="0.1">b_W1EVERYDAY_I</text>
<rect x="226" y="606" width="17.2" height="17.2" fill="#00BA38" fill-opacity="0.6" stroke="#000" stroke-opacity="0.85" stroke-width="0.9"/>
<text transform="translate(251.6,618.9) scale(1,1.08)" x="0" y="0" font-size="9" text-anchor="start" fill="#1A1A1A" font-weight="normal" textLength="83.6" lengthAdjust="spacingAndGlyphs" stroke="#1A1A1A" stroke-width="0.1">b_W1FELTSTIGMA_I</text>
<rect x="342.6" y="581" width="17.2" height="17.2" fill="#00C19F" fill-opacity="0.6" stroke="#000" stroke-opacity="0.85" stroke-width="0.9"/>
<text transform="translate(367.6,593.9) scale(1,1.08)" x="0" y="0" font-size="9" text-anchor="start" fill="#1A1A1A" font-weight="normal" textLength="78.6" lengthAdjust="spacingAndGlyphs" stroke="#1A1A1A" stroke-width="0.1">b_W1HCTHREAT_I</text>
<rect x="342.6" y="606" width="17.2" height="17.2" fill="#00B9E3" fill-opacity="0.6" stroke="#000" stroke-opacity="0.85" stroke-width="0.9"/>
<text transform="translate(367.6,618.9) scale(1,1.08)" x="0" y="0" font-size="9" text-anchor="start" fill="#1A1A1A" font-weight="normal" textLength="94.2" lengthAdjust="spacingAndGlyphs" stroke="#1A1A1A" stroke-width="0.1">b_W1INTERNALIZED_I</text>
<rect x="470" y="581" width="17.2" height="17.2" fill="#619CFF" fill-opacity="0.6" stroke="#000" stroke-opacity="0.85" stroke-width="0.9"/>
<text transform="translate(495,593.9) scale(1,1.08)" x="0" y="0" font-size="9" text-anchor="start" fill="#1A1A1A" font-weight="normal" textLength="64.6" lengthAdjust="spacingAndGlyphs" stroke="#1A1A1A" stroke-width="0.1">b_W1LIFESAT_I</text>
<rect x="470" y="606" width="17.2" height="17.2" fill="#DB72FB" fill-opacity="0.6" stroke="#000" stroke-opacity="0.85" stroke-width="0.9"/>
<text transform="translate(495,618.9) scale(1,1.08)" x="0" y="0" font-size="9" text-anchor="start" fill="#1A1A1A" font-weight="normal" textLength="76.2" lengthAdjust="spacingAndGlyphs" stroke="#1A1A1A" stroke-width="0.1">b_W1SOCIALWB_I</text>
<rect x="578" y="581" width="17.2" height="17.2" fill="#FF61C3" fill-opacity="0.6" stroke="#000" stroke-opacity="0.85" stroke-width="0.9"/>
<text transform="translate(603,593.9) scale(1,1.08)" x="0" y="0" font-size="9" text-anchor="start" fill="#1A1A1A" font-weight="normal" textLength="91.3" lengthAdjust="spacingAndGlyphs" stroke="#1A1A1A" stroke-width="0.1">b_W1SOCSUPPORT_I</text>
<line x1="65.4" y1="734.6" x2="65.4" y2="804.6" stroke="#EBEBEB" stroke-width="0.6"/>
<line x1="93.4" y1="734.6" x2="93.4" y2="804.6" stroke="#EBEBEB" stroke-width="0.75"/>
<line x1="121.4" y1="734.6" x2="121.4" y2="804.6" stroke="#EBEBEB" stroke-width="0.6"/>
<line x1="149.4" y1="734.6" x2="149.4" y2="804.6" stroke="#EBEBEB" stroke-width="0.75"/>
<line x1="177.4" y1="734.6" x2="177.4" y2="804.6" stroke="#EBEBEB" stroke-width="0.6"/>
<line x1="205.4" y1="734.6" x2="205.4" y2="804.6" stroke="#EBEBEB" stroke-width="0.75"/>
<line x1="233.4" y1="734.6" x2="233.4" y2="804.6" stroke="#EBEBEB" stroke-width="0.6"/>
<line x1="261.4" y1="734.6" x2="261.4" y2="804.6" stroke="#EBEBEB" stroke-width="0.75"/>
<line x1="42.4" y1="801.4" x2="266.4" y2="801.4" stroke="#EBEBEB" stroke-width="0.75"/>
<line x1="42.4" y1="791.4" x2="266.4" y2="791.4" stroke="#EBEBEB" stroke-width="0.6"/>
<line x1="42.4" y1="781.4" x2="266.4" y2="781.4" stroke="#EBEBEB" stroke-width="0.75"/>
<line x1="42.4" y1="771.4" x2="266.4" y2="771.4" stroke="#EBEBEB" stroke-width="0.6"/>
<line x1="42.4" y1="761.4" x2="266.4" y2="761.4" stroke="#EBEBEB" stroke-width="0.75"/>
<line x1="42.4" y1="751.4" x2="266.4" y2="751.4" stroke="#EBEBEB" stroke-width="0.6"/>
<line x1="42.4" y1="741.4" x2="266.4" y2="741.4" stroke="#EBEBEB" stroke-width="0.75"/>
<path d="M52.4,801.4 C54.67,801.27 61.4,801.33 66,800.6 C70.6,799.87 76.33,798.43 80,797 C83.67,795.57 85.33,794.17 88,792 C90.67,789.83 93.33,786.4 96,784 C98.67,781.6 101.33,780.5 104,777.6 C106.67,774.7 109.33,770.03 112,766.6 C114.67,763.17 117.33,760.6 120,757 C122.67,753.4 126,747.83 128,745 C130,742.17 130.67,741.08 132,740 C133.33,738.92 133,738.83 136,738.5 C139,738.17 146,736.58 150,738 C154,739.42 156.67,742.83 160,747 C163.33,751.17 166.67,757.67 170,763 C173.33,768.33 176.67,775 180,779 C183.33,783 186.67,784.67 190,787 C193.33,789.33 196.67,791.27 200,793 C203.33,794.73 206.67,796.23 210,797.4 C213.33,798.57 216.67,799.4 220,800 C223.33,800.6 224,800.77 230,801 C236,801.23 251.67,801.33 256,801.4 L256,801.4 L52.4,801.4 Z" fill="#F8766D" fill-opacity="0.6" stroke="none"/>
<path d="M52.4,801.4 C54.67,801.27 61.4,801.33 66,800.6 C70.6,799.87 76.33,798.43 80,797 C83.67,795.57 85.33,794.17 88,792 C90.67,789.83 93.33,786.4 96,784 C98.67,781.6 101.33,780.5 104,777.6 C106.67,774.7 109.33,770.03 112,766.6 C114.67,763.17 117.33,760.6 120,757 C122.67,753.4 126,747.83 128,745 C130,742.17 130.67,741.08 132,740 C133.33,738.92 133,738.83 136,738.5 C139,738.17 146,736.58 150,738 C154,739.42 156.67,742.83 160,747 C163.33,751.17 166.67,757.67 170,763 C173.33,768.33 176.67,775 180,779 C183.33,783 186.67,784.67 190,787 C193.33,789.33 196.67,791.27 200,793 C203.33,794.73 206.67,796.23 210,797.4 C213.33,798.57 216.67,799.4 220,800 C223.33,800.6 224,800.77 230,801 C236,801.23 251.67,801.33 256,801.4" fill="none" stroke="#000" stroke-width="1.05" stroke-linejoin="round"/>
<text transform="translate(154.4,728.7) scale(1,1.2)" x="0" y="0" font-size="9.3" text-anchor="middle" fill="#1A1A1A" font-weight="normal" textLength="46.6" lengthAdjust="spacingAndGlyphs" stroke="#1A1A1A" stroke-width="0.2">b_Intercept</text>
<text transform="translate(36.4,802) scale(1,1.2)" x="0" y="3.29" font-size="9.2" text-anchor="end" fill="#4D4D4D" font-weight="normal" stroke="#4D4D4D" stroke-width="0.2">0.0</text>
<text transform="translate(36.4,782) scale(1,1.2)" x="0" y="3.29" font-size="9.2" text-anchor="end" fill="#4D4D4D" font-weight="normal" stroke="#4D4D4D" stroke-width="0.2">0.5</text>
<text transform="translate(36.4,762) scale(1,1.2)" x="0" y="3.29" font-size="9.2" text-anchor="end" fill="#4D4D4D" font-weight="normal" stroke="#4D4D4D" stroke-width="0.2">1.0</text>
<text transform="translate(36.4,742) scale(1,1.2)" x="0" y="3.29" font-size="9.2" text-anchor="end" fill="#4D4D4D" font-weight="normal" stroke="#4D4D4D" stroke-width="0.2">1.5</text>
<text transform="translate(93.4,814.71) scale(1,1.2)" x="0" y="3.29" font-size="9.2" text-anchor="middle" fill="#4D4D4D" font-weight="normal" stroke="#4D4D4D" stroke-width="0.2">0.0</text>
<text transform="translate(149.4,814.71) scale(1,1.2)" x="0" y="3.29" font-size="9.2" text-anchor="middle" fill="#4D4D4D" font-weight="normal" stroke="#4D4D4D" stroke-width="0.2">0.5</text>
<text transform="translate(205.4,814.71) scale(1,1.2)" x="0" y="3.29" font-size="9.2" text-anchor="middle" fill="#4D4D4D" font-weight="normal" stroke="#4D4D4D" stroke-width="0.2">1.0</text>
<text transform="translate(261.4,814.71) scale(1,1.2)" x="0" y="3.29" font-size="9.2" text-anchor="middle" fill="#4D4D4D" font-weight="normal" stroke="#4D4D4D" stroke-width="0.2">1.5</text>
<line x1="310.4" y1="734.6" x2="310.4" y2="804.6" stroke="#EBEBEB" stroke-width="0.6"/>
<line x1="340.4" y1="734.6" x2="340.4" y2="804.6" stroke="#EBEBEB" stroke-width="0.75"/>
<line x1="370.4" y1="734.6" x2="370.4" y2="804.6" stroke="#EBEBEB" stroke-width="0.6"/>
<line x1="400.4" y1="734.6" x2="400.4" y2="804.6" stroke="#EBEBEB" stroke-width="0.75"/>
<line x1="430.4" y1="734.6" x2="430.4" y2="804.6" stroke="#EBEBEB" stroke-width="0.6"/>
<line x1="460.4" y1="734.6" x2="460.4" y2="804.6" stroke="#EBEBEB" stroke-width="0.75"/>
<line x1="490.4" y1="734.6" x2="490.4" y2="804.6" stroke="#EBEBEB" stroke-width="0.6"/>
<line x1="288" y1="801.4" x2="512" y2="801.4" stroke="#EBEBEB" stroke-width="0.75"/>
<line x1="288" y1="793.65" x2="512" y2="793.65" stroke="#EBEBEB" stroke-width="0.6"/>
<line x1="288" y1="785.9" x2="512" y2="785.9" stroke="#EBEBEB" stroke-width="0.75"/>
<line x1="288" y1="778.15" x2="512" y2="778.15" stroke="#EBEBEB" stroke-width="0.6"/>
<line x1="288" y1="770.4" x2="512" y2="770.4" stroke="#EBEBEB" stroke-width="0.75"/>
<line x1="288" y1="762.65" x2="512" y2="762.65" stroke="#EBEBEB" stroke-width="0.6"/>
<line x1="288" y1="754.9" x2="512" y2="754.9" stroke="#EBEBEB" stroke-width="0.75"/>
<line x1="288" y1="747.15" x2="512" y2="747.15" stroke="#EBEBEB" stroke-width="0.6"/>
<line x1="288" y1="739.4" x2="512" y2="739.4" stroke="#EBEBEB" stroke-width="0.75"/>
<path d="M298.6,801.4 C300.5,801.27 306.43,801 310,800.6 C313.57,800.2 317.33,799.6 320,799 C322.67,798.4 323.67,798.17 326,797 C328.33,795.83 331.67,793.33 334,792 C336.33,790.67 337.67,790.67 340,789 C342.33,787.33 345.67,784.33 348,782 C350.33,779.67 352,777.67 354,775 C356,772.33 357.67,769 360,766 C362.33,763 365.33,759.92 368,757 C370.67,754.08 373.67,751 376,748.5 C378.33,746 380,743.68 382,742 C384,740.32 386,739 388,738.4 C390,737.8 392,738.13 394,738.4 C396,738.67 398,739.07 400,740 C402,740.93 403.67,741.83 406,744 C408.33,746.17 411.33,750.17 414,753 C416.67,755.83 419.33,757.67 422,761 C424.67,764.33 427.33,769.33 430,773 C432.67,776.67 435.33,780.17 438,783 C440.67,785.83 443,787.83 446,790 C449,792.17 452,794.43 456,796 C460,797.57 465,798.57 470,799.4 C475,800.23 480.67,800.67 486,801 C491.33,801.33 499.33,801.33 502,801.4 L502,801.4 L298.6,801.4 Z" fill="#D39200" fill-opacity="0.6" stroke="none"/>
<path d="M298.6,801.4 C300.5,801.27 306.43,801 310,800.6 C313.57,800.2 317.33,799.6 320,799 C322.67,798.4 323.67,798.17 326,797 C328.33,795.83 331.67,793.33 334,792 C336.33,790.67 337.67,790.67 340,789 C342.33,787.33 345.67,784.33 348,782 C350.33,779.67 352,777.67 354,775 C356,772.33 357.67,769 360,766 C362.33,763 365.33,759.92 368,757 C370.67,754.08 373.67,751 376,748.5 C378.33,746 380,743.68 382,742 C384,740.32 386,739 388,738.4 C390,737.8 392,738.13 394,738.4 C396,738.67 398,739.07 400,740 C402,740.93 403.67,741.83 406,744 C408.33,746.17 411.33,750.17 414,753 C416.67,755.83 419.33,757.67 422,761 C424.67,764.33 427.33,769.33 430,773 C432.67,776.67 435.33,780.17 438,783 C440.67,785.83 443,787.83 446,790 C449,792.17 452,794.43 456,796 C460,797.57 465,798.57 470,799.4 C475,800.23 480.67,800.67 486,801 C491.33,801.33 499.33,801.33 502,801.4" fill="none" stroke="#000" stroke-width="1.05" stroke-linejoin="round"/>
<text transform="translate(400,728.7) scale(1,1.2)" x="0" y="0" font-size="9.3" text-anchor="middle" fill="#1A1A1A" font-weight="normal" textLength="117.8" lengthAdjust="spacingAndGlyphs" stroke="#1A1A1A" stroke-width="0.2">b_W1CONNECTEDNESS_I</text>
<text transform="translate(282.6,802) scale(1,1.2)" x="0" y="3.29" font-size="9.2" text-anchor="end" fill="#4D4D4D" font-weight="normal" stroke="#4D4D4D" stroke-width="0.2">0</text>
<text transform="translate(282.6,786.5) scale(1,1.2)" x="0" y="3.29" font-size="9.2" text-anchor="end" fill="#4D4D4D" font-weight="normal" stroke="#4D4D4D" stroke-width="0.2">2</text>
<text transform="translate(282.6,771) scale(1,1.2)" x="0" y="3.29" font-size="9.2" text-anchor="end" fill="#4D4D4D" font-weight="normal" stroke="#4D4D4D" stroke-width="0.2">4</text>
<text transform="translate(282.6,755.5) scale(1,1.2)" x="0" y="3.29" font-size="9.2" text-anchor="end" fill="#4D4D4D" font-weight="normal" stroke="#4D4D4D" stroke-width="0.2">6</text>
<text transform="translate(282.6,740) scale(1,1.2)" x="0" y="3.29" font-size="9.2" text-anchor="end" fill="#4D4D4D" font-weight="normal" stroke="#4D4D4D" stroke-width="0.2">8</text>
<text transform="translate(340.4,814.71) scale(1,1.2)" x="0" y="3.29" font-size="9.2" text-anchor="middle" fill="#4D4D4D" font-weight="normal" stroke="#4D4D4D" stroke-width="0.2">0.0</text>
<text transform="translate(400.4,814.71) scale(1,1.2)" x="0" y="3.29" font-size="9.2" text-anchor="middle" fill="#4D4D4D" font-weight="normal" stroke="#4D4D4D" stroke-width="0.2">0.1</text>
<text transform="translate(460.4,814.71) scale(1,1.2)" x="0" y="3.29" font-size="9.2" text-anchor="middle" fill="#4D4D4D" font-weight="normal" stroke="#4D4D4D" stroke-width="0.2">0.2</text>
<line x1="65.4" y1="846.6" x2="65.4" y2="916.6" stroke="#EBEBEB" stroke-width="0.75"/>
<line x1="97.55" y1="846.6" x2="97.55" y2="916.6" stroke="#EBEBEB" stroke-width="0.6"/>
<line x1="129.7" y1="846.6" x2="129.7" y2="916.6" stroke="#EBEBEB" stroke-width="0.75"/>
<line x1="161.85" y1="846.6" x2="161.85" y2="916.6" stroke="#EBEBEB" stroke-width="0.6"/>
<line x1="194" y1="846.6" x2="194" y2="916.6" stroke="#EBEBEB" stroke-width="0.75"/>
<line x1="226.15" y1="846.6" x2="226.15" y2="916.6" stroke="#EBEBEB" stroke-width="0.6"/>
<line x1="258.3" y1="846.6" x2="258.3" y2="916.6" stroke="#EBEBEB" stroke-width="0.75"/>
<line x1="42.4" y1="913.4" x2="266.4" y2="913.4" stroke="#EBEBEB" stroke-width="0.75"/>
<line x1="42.4" y1="905.1" x2="266.4" y2="905.1" stroke="#EBEBEB" stroke-width="0.6"/>
<line x1="42.4" y1="896.8" x2="266.4" y2="896.8" stroke="#EBEBEB" stroke-width="0.75"/>
<line x1="42.4" y1="888.5" x2="266.4" y2="888.5" stroke="#EBEBEB" stroke-width="0.6"/>
<line x1="42.4" y1="880.2" x2="266.4" y2="880.2" stroke="#EBEBEB" stroke-width="0.75"/>
<line x1="42.4" y1="871.9" x2="266.4" y2="871.9" stroke="#EBEBEB" stroke-width="0.6"/>
<line x1="42.4" y1="863.6" x2="266.4" y2="863.6" stroke="#EBEBEB" stroke-width="0.75"/>
<line x1="42.4" y1="855.3" x2="266.4" y2="855.3" stroke="#EBEBEB" stroke-width="0.6"/>
<line x1="42.4" y1="847" x2="266.4" y2="847" stroke="#EBEBEB" stroke-width="0.75"/>
<path d="M52.4,913.4 C54.5,913.33 61.07,913.23 65,913 C68.93,912.77 72.5,912.5 76,912 C79.5,911.5 83,911 86,910 C89,909 91,907.5 94,906 C97,904.5 101,903.33 104,901 C107,898.67 109.33,895.33 112,892 C114.67,888.67 117.67,884.33 120,881 C122.33,877.67 124.33,874.17 126,872 C127.67,869.83 128.67,869.67 130,868 C131.33,866.33 132.33,864.27 134,862 C135.67,859.73 138,856.23 140,854.4 C142,852.57 143.33,851.73 146,851 C148.67,850.27 153.67,850 156,850 C158.33,850 157.67,849 160,851 C162.33,853 167.67,858.83 170,862 C172.33,865.17 172.33,866.83 174,870 C175.67,873.17 178,878.17 180,881 C182,883.83 183.67,884.67 186,887 C188.33,889.33 191.33,892.33 194,895 C196.67,897.67 199.33,900.9 202,903 C204.67,905.1 206.67,906.27 210,907.6 C213.33,908.93 218,910.2 222,911 C226,911.8 228.33,912 234,912.4 C239.67,912.8 252.33,913.23 256,913.4 L256,913.4 L52.4,913.4 Z" fill="#93AA00" fill-opacity="0.6" stroke="none"/>
<path d="M52.4,913.4 C54.5,913.33 61.07,913.23 65,913 C68.93,912.77 72.5,912.5 76,912 C79.5,911.5 83,911 86,910 C89,909 91,907.5 94,906 C97,904.5 101,903.33 104,901 C107,898.67 109.33,895.33 112,892 C114.67,888.67 117.67,884.33 120,881 C122.33,877.67 124.33,874.17 126,872 C127.67,869.83 128.67,869.67 130,868 C131.33,866.33 132.33,864.27 134,862 C135.67,859.73 138,856.23 140,854.4 C142,852.57 143.33,851.73 146,851 C148.67,850.27 153.67,850 156,850 C158.33,850 157.67,849 160,851 C162.33,853 167.67,858.83 170,862 C172.33,865.17 172.33,866.83 174,870 C175.67,873.17 178,878.17 180,881 C182,883.83 183.67,884.67 186,887 C188.33,889.33 191.33,892.33 194,895 C196.67,897.67 199.33,900.9 202,903 C204.67,905.1 206.67,906.27 210,907.6 C213.33,908.93 218,910.2 222,911 C226,911.8 228.33,912 234,912.4 C239.67,912.8 252.33,913.23 256,913.4" fill="none" stroke="#000" stroke-width="1.05" stroke-linejoin="round"/>
<text transform="translate(154.4,840.7) scale(1,1.2)" x="0" y="0" font-size="9.3" text-anchor="middle" fill="#1A1A1A" font-weight="normal" textLength="85.6" lengthAdjust="spacingAndGlyphs" stroke="#1A1A1A" stroke-width="0.2">b_W1EVERYDAY_I</text>
<text transform="translate(36.4,914) scale(1,1.2)" x="0" y="3.29" font-size="9.2" text-anchor="end" fill="#4D4D4D" font-weight="normal" stroke="#4D4D4D" stroke-width="0.2">0.0</text>
<text transform="translate(36.4,897.4) scale(1,1.2)" x="0" y="3.29" font-size="9.2" text-anchor="end" fill="#4D4D4D" font-weight="normal" stroke="#4D4D4D" stroke-width="0.2">2.5</text>
<text transform="translate(36.4,880.8) scale(1,1.2)" x="0" y="3.29" font-size="9.2" text-anchor="end" fill="#4D4D4D" font-weight="normal" stroke="#4D4D4D" stroke-width="0.2">5.0</text>
<text transform="translate(36.4,864.2) scale(1,1.2)" x="0" y="3.29" font-size="9.2" text-anchor="end" fill="#4D4D4D" font-weight="normal" stroke="#4D4D4D" stroke-width="0.2">7.5</text>
<text transform="translate(36.4,847.6) scale(1,1.2)" x="0" y="3.29" font-size="9.2" text-anchor="end" fill="#4D4D4D" font-weight="normal" stroke="#4D4D4D" stroke-width="0.2">10.0</text>
<text transform="translate(65.4,926.71) scale(1,1.2)" x="0" y="3.29" font-size="9.2" text-anchor="middle" fill="#4D4D4D" font-weight="normal" stroke="#4D4D4D" stroke-width="0.2">0.1</text>
<text transform="translate(129.7,926.71) scale(1,1.2)" x="0" y="3.29" font-size="9.2" text-anchor="middle" fill="#4D4D4D" font-weight="normal" stroke="#4D4D4D" stroke-width="0.2">0.2</text>
<text transform="translate(194,926.71) scale(1,1.2)" x="0" y="3.29" font-size="9.2" text-anchor="middle" fill="#4D4D4D" font-weight="normal" stroke="#4D4D4D" stroke-width="0.2">0.3</text>
<text transform="translate(258.3,926.71) scale(1,1.2)" x="0" y="3.29" font-size="9.2" text-anchor="middle" fill="#4D4D4D" font-weight="normal" stroke="#4D4D4D" stroke-width="0.2">0.4</text>
<line x1="291.6" y1="846.6" x2="291.6" y2="916.6" stroke="#EBEBEB" stroke-width="0.6"/>
<line x1="315.6" y1="846.6" x2="315.6" y2="916.6" stroke="#EBEBEB" stroke-width="0.75"/>
<line x1="339.6" y1="846.6" x2="339.6" y2="916.6" stroke="#EBEBEB" stroke-width="0.6"/>
<line x1="363.6" y1="846.6" x2="363.6" y2="916.6" stroke="#EBEBEB" stroke-width="0.75"/>
<line x1="387.6" y1="846.6" x2="387.6" y2="916.6" stroke="#EBEBEB" stroke-width="0.6"/>
<line x1="411.6" y1="846.6" x2="411.6" y2="916.6" stroke="#EBEBEB" stroke-width="0.75"/>
<line x1="435.6" y1="846.6" x2="435.6" y2="916.6" stroke="#EBEBEB" stroke-width="0.6"/>
<line x1="459.6" y1="846.6" x2="459.6" y2="916.6" stroke="#EBEBEB" stroke-width="0.75"/>
<line x1="483.6" y1="846.6" x2="483.6" y2="916.6" stroke="#EBEBEB" stroke-width="0.6"/>
<line x1="507.6" y1="846.6" x2="507.6" y2="916.6" stroke="#EBEBEB" stroke-width="0.75"/>
<line x1="288" y1="913.4" x2="512" y2="913.4" stroke="#EBEBEB" stroke-width="0.75"/>
<line x1="288" y1="902" x2="512" y2="902" stroke="#EBEBEB" stroke-width="0.6"/>
<line x1="288" y1="890.6" x2="512" y2="890.6" stroke="#EBEBEB" stroke-width="0.75"/>
<line x1="288" y1="879.2" x2="512" y2="879.2" stroke="#EBEBEB" stroke-width="0.6"/>
<line x1="288" y1="867.8" x2="512" y2="867.8" stroke="#EBEBEB" stroke-width="0.75"/>
<line x1="288" y1="856.4" x2="512" y2="856.4" stroke="#EBEBEB" stroke-width="0.6"/>
<path d="M298.6,913.4 C300.5,913.27 306.43,913 310,912.6 C313.57,912.2 316.67,911.53 320,911 C323.33,910.47 326.67,910.07 330,909.4 C333.33,908.73 337.33,907.9 340,907 C342.67,906.1 343.67,905.67 346,904 C348.33,902.33 351.33,899.5 354,897 C356.67,894.5 359.33,892.17 362,889 C364.67,885.83 368,880.83 370,878 C372,875.17 372.33,874.17 374,872 C375.67,869.83 377.67,867.17 380,865 C382.33,862.83 386,861.13 388,859 C390,856.87 390.67,853.68 392,852.2 C393.33,850.72 394.33,850.45 396,850.1 C397.67,849.75 400.5,849.92 402,850.1 C403.5,850.28 403.67,850.22 405,851.2 C406.33,852.18 407.83,854.03 410,856 C412.17,857.97 415.67,860.67 418,863 C420.33,865.33 421.67,866.83 424,870 C426.33,873.17 429.33,878.5 432,882 C434.67,885.5 437,888 440,891 C443,894 446.67,897.5 450,900 C453.33,902.5 456.33,904.17 460,906 C463.67,907.83 467,909.93 472,911 C477,912.07 485,912 490,912.4 C495,912.8 500,913.23 502,913.4 L502,913.4 L298.6,913.4 Z" fill="#00BA38" fill-opacity="0.6" stroke="none"/>
<path d="M298.6,913.4 C300.5,913.27 306.43,913 310,912.6 C313.57,912.2 316.67,911.53 320,911 C323.33,910.47 326.67,910.07 330,909.4 C333.33,908.73 337.33,907.9 340,907 C342.67,906.1 343.67,905.67 346,904 C348.33,902.33 351.33,899.5 354,897 C356.67,894.5 359.33,892.17 362,889 C364.67,885.83 368,880.83 370,878 C372,875.17 372.33,874.17 374,872 C375.67,869.83 377.67,867.17 380,865 C382.33,862.83 386,861.13 388,859 C390,856.87 390.67,853.68 392,852.2 C393.33,850.72 394.33,850.45 396,850.1 C397.67,849.75 400.5,849.92 402,850.1 C403.5,850.28 403.67,850.22 405,851.2 C406.33,852.18 407.83,854.03 410,856 C412.17,857.97 415.67,860.67 418,863 C420.33,865.33 421.67,866.83 424,870 C426.33,873.17 429.33,878.5 432,882 C434.67,885.5 437,888 440,891 C443,894 446.67,897.5 450,900 C453.33,902.5 456.33,904.17 460,906 C463.67,907.83 467,909.93 472,911 C477,912.07 485,912 490,912.4 C495,912.8 500,913.23 502,913.4" fill="none" stroke="#000" stroke-width="1.05" stroke-linejoin="round"/>
<text transform="translate(400,840.7) scale(1,1.2)" x="0" y="0" font-size="9.3" text-anchor="middle" fill="#1A1A1A" font-weight="normal" textLength="90.6" lengthAdjust="spacingAndGlyphs" stroke="#1A1A1A" stroke-width="0.2">b_W1FELTSTIGMA_I</text>
<text transform="translate(282.6,914) scale(1,1.2)" x="0" y="3.29" font-size="9.2" text-anchor="end" fill="#4D4D4D" font-weight="normal" stroke="#4D4D4D" stroke-width="0.2">0</text>
<text transform="translate(282.6,891.2) scale(1,1.2)" x="0" y="3.29" font-size="9.2" text-anchor="end" fill="#4D4D4D" font-weight="normal" stroke="#4D4D4D" stroke-width="0.2">5</text>
<text transform="translate(282.6,868.4) scale(1,1.2)" x="0" y="3.29" font-size="9.2" text-anchor="end" fill="#4D4D4D" font-weight="normal" stroke="#4D4D4D" stroke-width="0.2">10</text>
<text transform="translate(315.6,926.71) scale(1,1.2)" x="0" y="3.29" font-size="9.2" text-anchor="middle" fill="#4D4D4D" font-weight="normal" stroke="#4D4D4D" stroke-width="0.2">-0.20</text>
<text transform="translate(363.6,926.71) scale(1,1.2)" x="0" y="3.29" font-size="9.2" text-anchor="middle" fill="#4D4D4D" font-weight="normal" stroke="#4D4D4D" stroke-width="0.2">-0.15</text>
<text transform="translate(411.6,926.71) scale(1,1.2)" x="0" y="3.29" font-size="9.2" text-anchor="middle" fill="#4D4D4D" font-weight="normal" stroke="#4D4D4D" stroke-width="0.2">-0.10</text>
<text transform="translate(459.6,926.71) scale(1,1.2)" x="0" y="3.29" font-size="9.2" text-anchor="middle" fill="#4D4D4D" font-weight="normal" stroke="#4D4D4D" stroke-width="0.2">-0.05</text>
<text transform="translate(507.6,926.71) scale(1,1.2)" x="0" y="3.29" font-size="9.2" text-anchor="middle" fill="#4D4D4D" font-weight="normal" stroke="#4D4D4D" stroke-width="0.2">0.00</text>
<line x1="56.2" y1="958.6" x2="56.2" y2="1028.6" stroke="#EBEBEB" stroke-width="0.75"/>
<line x1="81.3" y1="958.6" x2="81.3" y2="1028.6" stroke="#EBEBEB" stroke-width="0.6"/>
<line x1="106.4" y1="958.6" x2="106.4" y2="1028.6" stroke="#EBEBEB" stroke-width="0.75"/>
<line x1="131.5" y1="958.6" x2="131.5" y2="1028.6" stroke="#EBEBEB" stroke-width="0.6"/>
<line x1="156.6" y1="958.6" x2="156.6" y2="1028.6" stroke="#EBEBEB" stroke-width="0.75"/>
<line x1="181.7" y1="958.6" x2="181.7" y2="1028.6" stroke="#EBEBEB" stroke-width="0.6"/>
<line x1="206.8" y1="958.6" x2="206.8" y2="1028.6" stroke="#EBEBEB" stroke-width="0.75"/>
<line x1="231.9" y1="958.6" x2="231.9" y2="1028.6" stroke="#EBEBEB" stroke-width="0.6"/>
<line x1="257" y1="958.6" x2="257" y2="1028.6" stroke="#EBEBEB" stroke-width="0.75"/>
<line x1="42.4" y1="1025.4" x2="266.4" y2="1025.4" stroke="#EBEBEB" stroke-width="0.75"/>
<line x1="42.4" y1="1015.6" x2="266.4" y2="1015.6" stroke="#EBEBEB" stroke-width="0.6"/>
<line x1="42.4" y1="1005.8" x2="266.4" y2="1005.8" stroke="#EBEBEB" stroke-width="0.75"/>
<line x1="42.4" y1="996" x2="266.4" y2="996" stroke="#EBEBEB" stroke-width="0.6"/>
<line x1="42.4" y1="986.2" x2="266.4" y2="986.2" stroke="#EBEBEB" stroke-width="0.75"/>
<line x1="42.4" y1="976.4" x2="266.4" y2="976.4" stroke="#EBEBEB" stroke-width="0.6"/>
<line x1="42.4" y1="966.6" x2="266.4" y2="966.6" stroke="#EBEBEB" stroke-width="0.75"/>
<path d="M52.4,1025.4 C56.17,1025.33 70.4,1025.17 75,1025 C79.6,1024.83 77.5,1024.63 80,1024.4 C82.5,1024.17 86.67,1024.4 90,1023.6 C93.33,1022.8 97.67,1020.53 100,1019.6 C102.33,1018.67 102.33,1019.1 104,1018 C105.67,1016.9 107.33,1015.17 110,1013 C112.67,1010.83 117,1008.17 120,1005 C123,1001.83 125.67,997.33 128,994 C130.33,990.67 131.67,988.5 134,985 C136.33,981.5 139.67,975.83 142,973 C144.33,970.17 146,969.77 148,968 C150,966.23 152.33,963.57 154,962.4 C155.67,961.23 156.67,960.9 158,961 C159.33,961.1 160,961.17 162,963 C164,964.83 167.33,968.83 170,972 C172.67,975.17 175.33,978.33 178,982 C180.67,985.67 183.33,990.33 186,994 C188.67,997.67 191.33,1000.83 194,1004 C196.67,1007.17 199.33,1010.67 202,1013 C204.67,1015.33 207,1016.43 210,1018 C213,1019.57 216.67,1021.4 220,1022.4 C223.33,1023.4 224,1023.5 230,1024 C236,1024.5 251.67,1025.17 256,1025.4 L256,1025.4 L52.4,1025.4 Z" fill="#00C19F" fill-opacity="0.6" stroke="none"/>
<path d="M52.4,1025.4 C56.17,1025.33 70.4,1025.17 75,1025 C79.6,1024.83 77.5,1024.63 80,1024.4 C82.5,1024.17 86.67,1024.4 90,1023.6 C93.33,1022.8 97.67,1020.53 100,1019.6 C102.33,1018.67 102.33,1019.1 104,1018 C105.67,1016.9 107.33,1015.17 110,1013 C112.67,1010.83 117,1008.17 120,1005 C123,1001.83 125.67,997.33 128,994 C130.33,990.67 131.67,988.5 134,985 C136.33,981.5 139.67,975.83 142,973 C144.33,970.17 146,969.77 148,968 C150,966.23 152.33,963.57 154,962.4 C155.67,961.23 156.67,960.9 158,961 C159.33,961.1 160,961.17 162,963 C164,964.83 167.33,968.83 170,972 C172.67,975.17 175.33,978.33 178,982 C180.67,985.67 183.33,990.33 186,994 C188.67,997.67 191.33,1000.83 194,1004 C196.67,1007.17 199.33,1010.67 202,1013 C204.67,1015.33 207,1016.43 210,1018 C213,1019.57 216.67,1021.4 220,1022.4 C223.33,1023.4 224,1023.5 230,1024 C236,1024.5 251.67,1025.17 256,1025.4" fill="none" stroke="#000" stroke-width="1.05" stroke-linejoin="round"/>
<text transform="translate(154.4,952.7) scale(1,1.2)" x="0" y="0" font-size="9.3" text-anchor="middle" fill="#1A1A1A" font-weight="normal" textLength="82.6" lengthAdjust="spacingAndGlyphs" stroke="#1A1A1A" stroke-width="0.2">b_W1HCTHREAT_I</text>
<text transform="translate(36.4,1026) scale(1,1.2)" x="0" y="3.29" font-size="9.2" text-anchor="end" fill="#4D4D4D" font-weight="normal" stroke="#4D4D4D" stroke-width="0.2">0</text>
<text transform="translate(36.4,1006.4) scale(1,1.2)" x="0" y="3.29" font-size="9.2" text-anchor="end" fill="#4D4D4D" font-weight="normal" stroke="#4D4D4D" stroke-width="0.2">5</text>
<text transform="translate(36.4,986.8) scale(1,1.2)" x="0" y="3.29" font-size="9.2" text-anchor="end" fill="#4D4D4D" font-weight="normal" stroke="#4D4D4D" stroke-width="0.2">10</text>
<text transform="translate(36.4,967.2) scale(1,1.2)" x="0" y="3.29" font-size="9.2" text-anchor="end" fill="#4D4D4D" font-weight="normal" stroke="#4D4D4D" stroke-width="0.2">15</text>
<text transform="translate(56.2,1038.71) scale(1,1.2)" x="0" y="3.29" font-size="9.2" text-anchor="middle" fill="#4D4D4D" font-weight="normal" stroke="#4D4D4D" stroke-width="0.2">-0.15</text>
<text transform="translate(106.4,1038.71) scale(1,1.2)" x="0" y="3.29" font-size="9.2" text-anchor="middle" fill="#4D4D4D" font-weight="normal" stroke="#4D4D4D" stroke-width="0.2">-0.10</text>
<text transform="translate(156.6,1038.71) scale(1,1.2)" x="0" y="3.29" font-size="9.2" text-anchor="middle" fill="#4D4D4D" font-weight="normal" stroke="#4D4D4D" stroke-width="0.2">-0.05</text>
<text transform="translate(206.8,1038.71) scale(1,1.2)" x="0" y="3.29" font-size="9.2" text-anchor="middle" fill="#4D4D4D" font-weight="normal" stroke="#4D4D4D" stroke-width="0.2">0.00</text>
<text transform="translate(257,1038.71) scale(1,1.2)" x="0" y="3.29" font-size="9.2" text-anchor="middle" fill="#4D4D4D" font-weight="normal" stroke="#4D4D4D" stroke-width="0.2">0.05</text>
<line x1="294.2" y1="958.6" x2="294.2" y2="1028.6" stroke="#EBEBEB" stroke-width="0.75"/>
<line x1="332.9" y1="958.6" x2="332.9" y2="1028.6" stroke="#EBEBEB" stroke-width="0.6"/>
<line x1="371.6" y1="958.6" x2="371.6" y2="1028.6" stroke="#EBEBEB" stroke-width="0.75"/>
<line x1="410.3" y1="958.6" x2="410.3" y2="1028.6" stroke="#EBEBEB" stroke-width="0.6"/>
<line x1="449" y1="958.6" x2="449" y2="1028.6" stroke="#EBEBEB" stroke-width="0.75"/>
<line x1="487.7" y1="958.6" x2="487.7" y2="1028.6" stroke="#EBEBEB" stroke-width="0.6"/>
<line x1="288" y1="1025.4" x2="512" y2="1025.4" stroke="#EBEBEB" stroke-width="0.75"/>
<line x1="288" y1="1016.96" x2="512" y2="1016.96" stroke="#EBEBEB" stroke-width="0.6"/>
<line x1="288" y1="1008.51" x2="512" y2="1008.51" stroke="#EBEBEB" stroke-width="0.75"/>
<line x1="288" y1="1000.07" x2="512" y2="1000.07" stroke="#EBEBEB" stroke-width="0.6"/>
<line x1="288" y1="991.62" x2="512" y2="991.62" stroke="#EBEBEB" stroke-width="0.75"/>
<line x1="288" y1="983.18" x2="512" y2="983.18" stroke="#EBEBEB" stroke-width="0.6"/>
<line x1="288" y1="974.73" x2="512" y2="974.73" stroke="#EBEBEB" stroke-width="0.75"/>
<line x1="288" y1="966.29" x2="512" y2="966.29" stroke="#EBEBEB" stroke-width="0.6"/>
<path d="M298.6,1025.4 C300.5,1025.38 307.1,1025.53 310,1025.3 C312.9,1025.07 313.67,1024.38 316,1024 C318.33,1023.62 321.33,1023.5 324,1023 C326.67,1022.5 329.33,1021.9 332,1021 C334.67,1020.1 337.67,1018.93 340,1017.6 C342.33,1016.27 344,1014.6 346,1013 C348,1011.4 349.67,1009.77 352,1008 C354.33,1006.23 357.67,1004.9 360,1002.4 C362.33,999.9 364.33,995.57 366,993 C367.67,990.43 368.33,989.33 370,987 C371.67,984.67 374,981.5 376,979 C378,976.5 379.67,973.83 382,972 C384.33,970.17 387.67,969.5 390,968 C392.33,966.5 394.33,964.07 396,963 C397.67,961.93 398.67,961.6 400,961.6 C401.33,961.6 402.33,961.93 404,963 C405.67,964.07 407,965 410,968 C413,971 418.67,976.83 422,981 C425.33,985.17 427.33,989.17 430,993 C432.67,996.83 435.33,1000.77 438,1004 C440.67,1007.23 443.33,1010.23 446,1012.4 C448.67,1014.57 451,1015.47 454,1017 C457,1018.53 460,1020.37 464,1021.6 C468,1022.83 471.67,1023.77 478,1024.4 C484.33,1025.03 498,1025.23 502,1025.4 L502,1025.4 L298.6,1025.4 Z" fill="#00B9E3" fill-opacity="0.6" stroke="none"/>
<path d="M298.6,1025.4 C300.5,1025.38 307.1,1025.53 310,1025.3 C312.9,1025.07 313.67,1024.38 316,1024 C318.33,1023.62 321.33,1023.5 324,1023 C326.67,1022.5 329.33,1021.9 332,1021 C334.67,1020.1 337.67,1018.93 340,1017.6 C342.33,1016.27 344,1014.6 346,1013 C348,1011.4 349.67,1009.77 352,1008 C354.33,1006.23 357.67,1004.9 360,1002.4 C362.33,999.9 364.33,995.57 366,993 C367.67,990.43 368.33,989.33 370,987 C371.67,984.67 374,981.5 376,979 C378,976.5 379.67,973.83 382,972 C384.33,970.17 387.67,969.5 390,968 C392.33,966.5 394.33,964.07 396,963 C397.67,961.93 398.67,961.6 400,961.6 C401.33,961.6 402.33,961.93 404,963 C405.67,964.07 407,965 410,968 C413,971 418.67,976.83 422,981 C425.33,985.17 427.33,989.17 430,993 C432.67,996.83 435.33,1000.77 438,1004 C440.67,1007.23 443.33,1010.23 446,1012.4 C448.67,1014.57 451,1015.47 454,1017 C457,1018.53 460,1020.37 464,1021.6 C468,1022.83 471.67,1023.77 478,1024.4 C484.33,1025.03 498,1025.23 502,1025.4" fill="none" stroke="#000" stroke-width="1.05" stroke-linejoin="round"/>
<text transform="translate(400,952.7) scale(1,1.2)" x="0" y="0" font-size="9.3" text-anchor="middle" fill="#1A1A1A" font-weight="normal" textLength="98.6" lengthAdjust="spacingAndGlyphs" stroke="#1A1A1A" stroke-width="0.2">b_W1INTERNALIZED_I</text>
<text transform="translate(282.6,1026) scale(1,1.2)" x="0" y="3.29" font-size="9.2" text-anchor="end" fill="#4D4D4D" font-weight="normal" stroke="#4D4D4D" stroke-width="0.2">0</text>
<text transform="translate(282.6,1009.11) scale(1,1.2)" x="0" y="3.29" font-size="9.2" text-anchor="end" fill="#4D4D4D" font-weight="normal" stroke="#4D4D4D" stroke-width="0.2">3</text>
<text transform="translate(282.6,992.22) scale(1,1.2)" x="0" y="3.29" font-size="9.2" text-anchor="end" fill="#4D4D4D" font-weight="normal" stroke="#4D4D4D" stroke-width="0.2">6</text>
<text transform="translate(282.6,975.33) scale(1,1.2)" x="0" y="3.29" font-size="9.2" text-anchor="end" fill="#4D4D4D" font-weight="normal" stroke="#4D4D4D" stroke-width="0.2">9</text>
<text transform="translate(294.2,1038.71) scale(1,1.2)" x="0" y="3.29" font-size="9.2" text-anchor="middle" fill="#4D4D4D" font-weight="normal" stroke="#4D4D4D" stroke-width="0.2">-0.1</text>
<text transform="translate(371.6,1038.71) scale(1,1.2)" x="0" y="3.29" font-size="9.2" text-anchor="middle" fill="#4D4D4D" font-weight="normal" stroke="#4D4D4D" stroke-width="0.2">0.0</text>
<text transform="translate(449,1038.71) scale(1,1.2)" x="0" y="3.29" font-size="9.2" text-anchor="middle" fill="#4D4D4D" font-weight="normal" stroke="#4D4D4D" stroke-width="0.2">0.1</text>
<line x1="74.35" y1="1070.6" x2="74.35" y2="1140.6" stroke="#EBEBEB" stroke-width="0.6"/>
<line x1="108.5" y1="1070.6" x2="108.5" y2="1140.6" stroke="#EBEBEB" stroke-width="0.75"/>
<line x1="142.65" y1="1070.6" x2="142.65" y2="1140.6" stroke="#EBEBEB" stroke-width="0.6"/>
<line x1="176.8" y1="1070.6" x2="176.8" y2="1140.6" stroke="#EBEBEB" stroke-width="0.75"/>
<line x1="210.95" y1="1070.6" x2="210.95" y2="1140.6" stroke="#EBEBEB" stroke-width="0.6"/>
<line x1="245.1" y1="1070.6" x2="245.1" y2="1140.6" stroke="#EBEBEB" stroke-width="0.75"/>
<line x1="42.4" y1="1137.4" x2="266.4" y2="1137.4" stroke="#EBEBEB" stroke-width="0.75"/>
<line x1="42.4" y1="1129.4" x2="266.4" y2="1129.4" stroke="#EBEBEB" stroke-width="0.6"/>
<line x1="42.4" y1="1121.4" x2="266.4" y2="1121.4" stroke="#EBEBEB" stroke-width="0.75"/>
<line x1="42.4" y1="1113.4" x2="266.4" y2="1113.4" stroke="#EBEBEB" stroke-width="0.6"/>
<line x1="42.4" y1="1105.4" x2="266.4" y2="1105.4" stroke="#EBEBEB" stroke-width="0.75"/>
<line x1="42.4" y1="1097.4" x2="266.4" y2="1097.4" stroke="#EBEBEB" stroke-width="0.6"/>
<line x1="42.4" y1="1089.4" x2="266.4" y2="1089.4" stroke="#EBEBEB" stroke-width="0.75"/>
<line x1="42.4" y1="1081.4" x2="266.4" y2="1081.4" stroke="#EBEBEB" stroke-width="0.6"/>
<line x1="42.4" y1="1073.4" x2="266.4" y2="1073.4" stroke="#EBEBEB" stroke-width="0.75"/>
<path d="M52.4,1137.4 C54.33,1137.33 60.73,1137.23 64,1137 C67.27,1136.77 69,1136.23 72,1136 C75,1135.77 78.67,1135.93 82,1135.6 C85.33,1135.27 89,1134.83 92,1134 C95,1133.17 97.33,1131.77 100,1130.6 C102.67,1129.43 105.67,1128.6 108,1127 C110.33,1125.4 112,1123.17 114,1121 C116,1118.83 118,1116.5 120,1114 C122,1111.5 124.33,1108.17 126,1106 C127.67,1103.83 128.33,1102.83 130,1101 C131.67,1099.17 134,1097.5 136,1095 C138,1092.5 139.67,1088.5 142,1086 C144.33,1083.5 147.67,1082 150,1080 C152.33,1078 154,1075.07 156,1074 C158,1072.93 159.67,1073.1 162,1073.6 C164.33,1074.1 167.33,1074.93 170,1077 C172.67,1079.07 175.33,1082.83 178,1086 C180.67,1089.17 183.33,1092.67 186,1096 C188.67,1099.33 191.33,1102.5 194,1106 C196.67,1109.5 199.33,1113.67 202,1117 C204.67,1120.33 207.33,1123.67 210,1126 C212.67,1128.33 214.67,1129.67 218,1131 C221.33,1132.33 226.33,1133.1 230,1134 C233.67,1134.9 235.67,1135.83 240,1136.4 C244.33,1136.97 253.33,1137.23 256,1137.4 L256,1137.4 L52.4,1137.4 Z" fill="#619CFF" fill-opacity="0.6" stroke="none"/>
<path d="M52.4,1137.4 C54.33,1137.33 60.73,1137.23 64,1137 C67.27,1136.77 69,1136.23 72,1136 C75,1135.77 78.67,1135.93 82,1135.6 C85.33,1135.27 89,1134.83 92,1134 C95,1133.17 97.33,1131.77 100,1130.6 C102.67,1129.43 105.67,1128.6 108,1127 C110.33,1125.4 112,1123.17 114,1121 C116,1118.83 118,1116.5 120,1114 C122,1111.5 124.33,1108.17 126,1106 C127.67,1103.83 128.33,1102.83 130,1101 C131.67,1099.17 134,1097.5 136,1095 C138,1092.5 139.67,1088.5 142,1086 C144.33,1083.5 147.67,1082 150,1080 C152.33,1078 154,1075.07 156,1074 C158,1072.93 159.67,1073.1 162,1073.6 C164.33,1074.1 167.33,1074.93 170,1077 C172.67,1079.07 175.33,1082.83 178,1086 C180.67,1089.17 183.33,1092.67 186,1096 C188.67,1099.33 191.33,1102.5 194,1106 C196.67,1109.5 199.33,1113.67 202,1117 C204.67,1120.33 207.33,1123.67 210,1126 C212.67,1128.33 214.67,1129.67 218,1131 C221.33,1132.33 226.33,1133.1 230,1134 C233.67,1134.9 235.67,1135.83 240,1136.4 C244.33,1136.97 253.33,1137.23 256,1137.4" fill="none" stroke="#000" stroke-width="1.05" stroke-linejoin="round"/>
<text transform="translate(154.4,1064.7) scale(1,1.2)" x="0" y="0" font-size="9.3" text-anchor="middle" fill="#1A1A1A" font-weight="normal" textLength="70.2" lengthAdjust="spacingAndGlyphs" stroke="#1A1A1A" stroke-width="0.2">b_W1LIFESAT_I</text>
<text transform="translate(36.4,1138) scale(1,1.2)" x="0" y="3.29" font-size="9.2" text-anchor="end" fill="#4D4D4D" font-weight="normal" stroke="#4D4D4D" stroke-width="0.2">0</text>
<text transform="translate(36.4,1122) scale(1,1.2)" x="0" y="3.29" font-size="9.2" text-anchor="end" fill="#4D4D4D" font-weight="normal" stroke="#4D4D4D" stroke-width="0.2">5</text>
<text transform="translate(36.4,1106) scale(1,1.2)" x="0" y="3.29" font-size="9.2" text-anchor="end" fill="#4D4D4D" font-weight="normal" stroke="#4D4D4D" stroke-width="0.2">10</text>
<text transform="translate(36.4,1090) scale(1,1.2)" x="0" y="3.29" font-size="9.2" text-anchor="end" fill="#4D4D4D" font-weight="normal" stroke="#4D4D4D" stroke-width="0.2">15</text>
<text transform="translate(36.4,1074) scale(1,1.2)" x="0" y="3.29" font-size="9.2" text-anchor="end" fill="#4D4D4D" font-weight="normal" stroke="#4D4D4D" stroke-width="0.2">20</text>
<text transform="translate(108.5,1150.71) scale(1,1.2)" x="0" y="3.29" font-size="9.2" text-anchor="middle" fill="#4D4D4D" font-weight="normal" stroke="#4D4D4D" stroke-width="0.2">-0.05</text>
<text transform="translate(176.8,1150.71) scale(1,1.2)" x="0" y="3.29" font-size="9.2" text-anchor="middle" fill="#4D4D4D" font-weight="normal" stroke="#4D4D4D" stroke-width="0.2">0.00</text>
<text transform="translate(245.1,1150.71) scale(1,1.2)" x="0" y="3.29" font-size="9.2" text-anchor="middle" fill="#4D4D4D" font-weight="normal" stroke="#4D4D4D" stroke-width="0.2">0.05</text>
<line x1="301.2" y1="1070.6" x2="301.2" y2="1140.6" stroke="#EBEBEB" stroke-width="0.75"/>
<line x1="337.9" y1="1070.6" x2="337.9" y2="1140.6" stroke="#EBEBEB" stroke-width="0.6"/>
<line x1="374.6" y1="1070.6" x2="374.6" y2="1140.6" stroke="#EBEBEB" stroke-width="0.75"/>
<line x1="411.3" y1="1070.6" x2="411.3" y2="1140.6" stroke="#EBEBEB" stroke-width="0.6"/>
<line x1="448" y1="1070.6" x2="448" y2="1140.6" stroke="#EBEBEB" stroke-width="0.75"/>
<line x1="484.7" y1="1070.6" x2="484.7" y2="1140.6" stroke="#EBEBEB" stroke-width="0.6"/>
<line x1="288" y1="1137.4" x2="512" y2="1137.4" stroke="#EBEBEB" stroke-width="0.75"/>
<line x1="288" y1="1129.15" x2="512" y2="1129.15" stroke="#EBEBEB" stroke-width="0.6"/>
<line x1="288" y1="1120.9" x2="512" y2="1120.9" stroke="#EBEBEB" stroke-width="0.75"/>
<line x1="288" y1="1112.65" x2="512" y2="1112.65" stroke="#EBEBEB" stroke-width="0.6"/>
<line x1="288" y1="1104.4" x2="512" y2="1104.4" stroke="#EBEBEB" stroke-width="0.75"/>
<line x1="288" y1="1096.15" x2="512" y2="1096.15" stroke="#EBEBEB" stroke-width="0.6"/>
<line x1="288" y1="1087.9" x2="512" y2="1087.9" stroke="#EBEBEB" stroke-width="0.75"/>
<line x1="288" y1="1079.65" x2="512" y2="1079.65" stroke="#EBEBEB" stroke-width="0.6"/>
<line x1="288" y1="1071.4" x2="512" y2="1071.4" stroke="#EBEBEB" stroke-width="0.75"/>
<path d="M298.6,1137.4 C300.5,1137.27 306.43,1136.9 310,1136.6 C313.57,1136.3 317,1135.87 320,1135.6 C323,1135.33 325.33,1135.33 328,1135 C330.67,1134.67 333.33,1134.43 336,1133.6 C338.67,1132.77 341,1131.33 344,1130 C347,1128.67 351.33,1127.6 354,1125.6 C356.67,1123.6 357.67,1121.27 360,1118 C362.33,1114.73 365.33,1109.5 368,1106 C370.67,1102.5 373.67,1099.67 376,1097 C378.33,1094.33 380,1092.5 382,1090 C384,1087.5 386,1084.6 388,1082 C390,1079.4 392.33,1075.83 394,1074.4 C395.67,1072.97 396.33,1073.13 398,1073.4 C399.67,1073.67 401.67,1074.57 404,1076 C406.33,1077.43 409.33,1079 412,1082 C414.67,1085 417.33,1090.5 420,1094 C422.67,1097.5 425.33,1100 428,1103 C430.67,1106 433.33,1108.67 436,1112 C438.67,1115.33 441.33,1120 444,1123 C446.67,1126 449,1128.23 452,1130 C455,1131.77 458,1132.67 462,1133.6 C466,1134.53 472.33,1135.03 476,1135.6 C479.67,1136.17 479.67,1136.7 484,1137 C488.33,1137.3 499,1137.33 502,1137.4 L502,1137.4 L298.6,1137.4 Z" fill="#DB72FB" fill-opacity="0.6" stroke="none"/>
<path d="M298.6,1137.4 C300.5,1137.27 306.43,1136.9 310,1136.6 C313.57,1136.3 317,1135.87 320,1135.6 C323,1135.33 325.33,1135.33 328,1135 C330.67,1134.67 333.33,1134.43 336,1133.6 C338.67,1132.77 341,1131.33 344,1130 C347,1128.67 351.33,1127.6 354,1125.6 C356.67,1123.6 357.67,1121.27 360,1118 C362.33,1114.73 365.33,1109.5 368,1106 C370.67,1102.5 373.67,1099.67 376,1097 C378.33,1094.33 380,1092.5 382,1090 C384,1087.5 386,1084.6 388,1082 C390,1079.4 392.33,1075.83 394,1074.4 C395.67,1072.97 396.33,1073.13 398,1073.4 C399.67,1073.67 401.67,1074.57 404,1076 C406.33,1077.43 409.33,1079 412,1082 C414.67,1085 417.33,1090.5 420,1094 C422.67,1097.5 425.33,1100 428,1103 C430.67,1106 433.33,1108.67 436,1112 C438.67,1115.33 441.33,1120 444,1123 C446.67,1126 449,1128.23 452,1130 C455,1131.77 458,1132.67 462,1133.6 C466,1134.53 472.33,1135.03 476,1135.6 C479.67,1136.17 479.67,1136.7 484,1137 C488.33,1137.3 499,1137.33 502,1137.4" fill="none" stroke="#000" stroke-width="1.05" stroke-linejoin="round"/>
<text transform="translate(400,1064.7) scale(1,1.2)" x="0" y="0" font-size="9.3" text-anchor="middle" fill="#1A1A1A" font-weight="normal" textLength="83.2" lengthAdjust="spacingAndGlyphs" stroke="#1A1A1A" stroke-width="0.2">b_W1SOCIALWB_I</text>
<text transform="translate(282.6,1138) scale(1,1.2)" x="0" y="3.29" font-size="9.2" text-anchor="end" fill="#4D4D4D" font-weight="normal" stroke="#4D4D4D" stroke-width="0.2">0</text>
<text transform="translate(282.6,1121.5) scale(1,1.2)" x="0" y="3.29" font-size="9.2" text-anchor="end" fill="#4D4D4D" font-weight="normal" stroke="#4D4D4D" stroke-width="0.2">3</text>
<text transform="translate(282.6,1105) scale(1,1.2)" x="0" y="3.29" font-size="9.2" text-anchor="end" fill="#4D4D4D" font-weight="normal" stroke="#4D4D4D" stroke-width="0.2">6</text>
<text transform="translate(282.6,1088.5) scale(1,1.2)" x="0" y="3.29" font-size="9.2" text-anchor="end" fill="#4D4D4D" font-weight="normal" stroke="#4D4D4D" stroke-width="0.2">9</text>
<text transform="translate(282.6,1072) scale(1,1.2)" x="0" y="3.29" font-size="9.2" text-anchor="end" fill="#4D4D4D" font-weight="normal" stroke="#4D4D4D" stroke-width="0.2">12</text>
<text transform="translate(301.2,1150.71) scale(1,1.2)" x="0" y="3.29" font-size="9.2" text-anchor="middle" fill="#4D4D4D" font-weight="normal" stroke="#4D4D4D" stroke-width="0.2">-0.3</text>
<text transform="translate(374.6,1150.71) scale(1,1.2)" x="0" y="3.29" font-size="9.2" text-anchor="middle" fill="#4D4D4D" font-weight="normal" stroke="#4D4D4D" stroke-width="0.2">-0.2</text>
<text transform="translate(448,1150.71) scale(1,1.2)" x="0" y="3.29" font-size="9.2" text-anchor="middle" fill="#4D4D4D" font-weight="normal" stroke="#4D4D4D" stroke-width="0.2">-0.1</text>
<line x1="44.15" y1="1182.6" x2="44.15" y2="1252.6" stroke="#EBEBEB" stroke-width="0.6"/>
<line x1="74.3" y1="1182.6" x2="74.3" y2="1252.6" stroke="#EBEBEB" stroke-width="0.75"/>
<line x1="104.45" y1="1182.6" x2="104.45" y2="1252.6" stroke="#EBEBEB" stroke-width="0.6"/>
<line x1="134.6" y1="1182.6" x2="134.6" y2="1252.6" stroke="#EBEBEB" stroke-width="0.75"/>
<line x1="164.75" y1="1182.6" x2="164.75" y2="1252.6" stroke="#EBEBEB" stroke-width="0.6"/>
<line x1="194.9" y1="1182.6" x2="194.9" y2="1252.6" stroke="#EBEBEB" stroke-width="0.75"/>
<line x1="225.05" y1="1182.6" x2="225.05" y2="1252.6" stroke="#EBEBEB" stroke-width="0.6"/>
<line x1="255.2" y1="1182.6" x2="255.2" y2="1252.6" stroke="#EBEBEB" stroke-width="0.75"/>
<line x1="42.4" y1="1249.4" x2="266.4" y2="1249.4" stroke="#EBEBEB" stroke-width="0.75"/>
<line x1="42.4" y1="1240.7" x2="266.4" y2="1240.7" stroke="#EBEBEB" stroke-width="0.6"/>
<line x1="42.4" y1="1232" x2="266.4" y2="1232" stroke="#EBEBEB" stroke-width="0.75"/>
<line x1="42.4" y1="1223.3" x2="266.4" y2="1223.3" stroke="#EBEBEB" stroke-width="0.6"/>
<line x1="42.4" y1="1214.6" x2="266.4" y2="1214.6" stroke="#EBEBEB" stroke-width="0.75"/>
<line x1="42.4" y1="1205.9" x2="266.4" y2="1205.9" stroke="#EBEBEB" stroke-width="0.6"/>
<line x1="42.4" y1="1197.2" x2="266.4" y2="1197.2" stroke="#EBEBEB" stroke-width="0.75"/>
<line x1="42.4" y1="1188.5" x2="266.4" y2="1188.5" stroke="#EBEBEB" stroke-width="0.6"/>
<path d="M52.4,1249.4 C53.67,1249.33 57.4,1249.23 60,1249 C62.6,1248.77 65.33,1248.5 68,1248 C70.67,1247.5 73.33,1246.77 76,1246 C78.67,1245.23 81.33,1244.5 84,1243.4 C86.67,1242.3 89.33,1240.97 92,1239.4 C94.67,1237.83 97.33,1236.07 100,1234 C102.67,1231.93 105.33,1229.67 108,1227 C110.67,1224.33 113.33,1221.33 116,1218 C118.67,1214.67 121.67,1210.25 124,1207 C126.33,1203.75 128,1201.17 130,1198.5 C132,1195.83 134,1193.08 136,1191 C138,1188.92 140.33,1187 142,1186 C143.67,1185 144.67,1185 146,1185 C147.33,1185 148.33,1184.83 150,1186 C151.67,1187.17 153.67,1189.67 156,1192 C158.33,1194.33 161.33,1197.17 164,1200 C166.67,1202.83 169.33,1205.67 172,1209 C174.67,1212.33 177.33,1216.33 180,1220 C182.67,1223.67 185.33,1228 188,1231 C190.67,1234 193.33,1236 196,1238 C198.67,1240 201.33,1241.67 204,1243 C206.67,1244.33 209,1245.17 212,1246 C215,1246.83 218.33,1247.5 222,1248 C225.67,1248.5 228.33,1248.77 234,1249 C239.67,1249.23 252.33,1249.33 256,1249.4 L256,1249.4 L52.4,1249.4 Z" fill="#FF61C3" fill-opacity="0.6" stroke="none"/>
<path d="M52.4,1249.4 C53.67,1249.33 57.4,1249.23 60,1249 C62.6,1248.77 65.33,1248.5 68,1248 C70.67,1247.5 73.33,1246.77 76,1246 C78.67,1245.23 81.33,1244.5 84,1243.4 C86.67,1242.3 89.33,1240.97 92,1239.4 C94.67,1237.83 97.33,1236.07 100,1234 C102.67,1231.93 105.33,1229.67 108,1227 C110.67,1224.33 113.33,1221.33 116,1218 C118.67,1214.67 121.67,1210.25 124,1207 C126.33,1203.75 128,1201.17 130,1198.5 C132,1195.83 134,1193.08 136,1191 C138,1188.92 140.33,1187 142,1186 C143.67,1185 144.67,1185 146,1185 C147.33,1185 148.33,1184.83 150,1186 C151.67,1187.17 153.67,1189.67 156,1192 C158.33,1194.33 161.33,1197.17 164,1200 C166.67,1202.83 169.33,1205.67 172,1209 C174.67,1212.33 177.33,1216.33 180,1220 C182.67,1223.67 185.33,1228 188,1231 C190.67,1234 193.33,1236 196,1238 C198.67,1240 201.33,1241.67 204,1243 C206.67,1244.33 209,1245.17 212,1246 C215,1246.83 218.33,1247.5 222,1248 C225.67,1248.5 228.33,1248.77 234,1249 C239.67,1249.23 252.33,1249.33 256,1249.4" fill="none" stroke="#000" stroke-width="1.05" stroke-linejoin="round"/>
<text transform="translate(154.4,1176.7) scale(1,1.2)" x="0" y="0" font-size="9.3" text-anchor="middle" fill="#1A1A1A" font-weight="normal" textLength="98.2" lengthAdjust="spacingAndGlyphs" stroke="#1A1A1A" stroke-width="0.2">b_W1SOCSUPPORT_I</text>
<text transform="translate(36.4,1250) scale(1,1.2)" x="0" y="3.29" font-size="9.2" text-anchor="end" fill="#4D4D4D" font-weight="normal" stroke="#4D4D4D" stroke-width="0.2">0</text>
<text transform="translate(36.4,1232.6) scale(1,1.2)" x="0" y="3.29" font-size="9.2" text-anchor="end" fill="#4D4D4D" font-weight="normal" stroke="#4D4D4D" stroke-width="0.2">5</text>
<text transform="translate(36.4,1215.2) scale(1,1.2)" x="0" y="3.29" font-size="9.2" text-anchor="end" fill="#4D4D4D" font-weight="normal" stroke="#4D4D4D" stroke-width="0.2">10</text>
<text transform="translate(36.4,1197.8) scale(1,1.2)" x="0" y="3.29" font-size="9.2" text-anchor="end" fill="#4D4D4D" font-weight="normal" stroke="#4D4D4D" stroke-width="0.2">15</text>
<text transform="translate(74.3,1262.71) scale(1,1.2)" x="0" y="3.29" font-size="9.2" text-anchor="middle" fill="#4D4D4D" font-weight="normal" stroke="#4D4D4D" stroke-width="0.2">-0.05</text>
<text transform="translate(134.6,1262.71) scale(1,1.2)" x="0" y="3.29" font-size="9.2" text-anchor="middle" fill="#4D4D4D" font-weight="normal" stroke="#4D4D4D" stroke-width="0.2">0.00</text>
<text transform="translate(194.9,1262.71) scale(1,1.2)" x="0" y="3.29" font-size="9.2" text-anchor="middle" fill="#4D4D4D" font-weight="normal" stroke="#4D4D4D" stroke-width="0.2">0.05</text>
<text transform="translate(255.2,1262.71) scale(1,1.2)" x="0" y="3.29" font-size="9.2" text-anchor="middle" fill="#4D4D4D" font-weight="normal" stroke="#4D4D4D" stroke-width="0.2">0.10</text>
<text x="0" y="672" font-size="15" text-anchor="start" fill="#000" font-weight="bold" textLength="340" lengthAdjust="spacingAndGlyphs" stroke="#000" stroke-width="0.35">b. Posterior Distribution of Predictors of DUDIT</text>
<text x="43" y="705.6" font-size="13" text-anchor="start" fill="#1A1A1A" font-weight="normal" textLength="284.6" lengthAdjust="spacingAndGlyphs">Posterior Distributions of Predictors of DUDIT</text>
<text transform="translate(14.5,993.5) rotate(-90)" x="0" y="0" font-size="12" text-anchor="middle" fill="#000">Density</text>
<text x="277.4" y="1282" font-size="11.6" text-anchor="middle" fill="#000" font-weight="normal">Effect Size</text>
<text x="530" y="912" font-size="11.6" text-anchor="start" fill="#000" font-weight="normal">Predictor</text>
<rect x="530.4" y="918.6" width="17.6" height="17.4" fill="#F8766D" fill-opacity="0.6" stroke="#000" stroke-opacity="0.85" stroke-width="0.9"/>
<text transform="translate(555.4,931.9) scale(1,1.25)" x="0" y="0" font-size="9.3" text-anchor="start" fill="#1A1A1A" font-weight="normal" textLength="46.8" lengthAdjust="spacingAndGlyphs" stroke="#1A1A1A" stroke-width="0.2">b_Intercept</text>
<rect x="530.4" y="937.38" width="17.6" height="17.4" fill="#D39200" fill-opacity="0.6" stroke="#000" stroke-opacity="0.85" stroke-width="0.9"/>
<text transform="translate(555.4,950.68) scale(1,1.25)" x="0" y="0" font-size="9.3" text-anchor="start" fill="#1A1A1A" font-weight="normal" textLength="118.6" lengthAdjust="spacingAndGlyphs" stroke="#1A1A1A" stroke-width="0.2">b_W1CONNECTEDNESS_I</text>
<rect x="530.4" y="956.16" width="17.6" height="17.4" fill="#93AA00" fill-opacity="0.6" stroke="#000" stroke-opacity="0.85" stroke-width="0.9"/>
<text transform="translate(555.4,969.46) scale(1,1.25)" x="0" y="0" font-size="9.3" text-anchor="start" fill="#1A1A1A" font-weight="normal" textLength="85.2" lengthAdjust="spacingAndGlyphs" stroke="#1A1A1A" stroke-width="0.2">b_W1EVERYDAY_I</text>
<rect x="530.4" y="974.94" width="17.6" height="17.4" fill="#00BA38" fill-opacity="0.6" stroke="#000" stroke-opacity="0.85" stroke-width="0.9"/>
<text transform="translate(555.4,988.24) scale(1,1.25)" x="0" y="0" font-size="9.3" text-anchor="start" fill="#1A1A1A" font-weight="normal" textLength="91.6" lengthAdjust="spacingAndGlyphs" stroke="#1A1A1A" stroke-width="0.2">b_W1FELTSTIGMA_I</text>
<rect x="530.4" y="993.72" width="17.6" height="17.4" fill="#00C19F" fill-opacity="0.6" stroke="#000" stroke-opacity="0.85" stroke-width="0.9"/>
<text transform="translate(555.4,1007.02) scale(1,1.25)" x="0" y="0" font-size="9.3" text-anchor="start" fill="#1A1A1A" font-weight="normal" textLength="82.4" lengthAdjust="spacingAndGlyphs" stroke="#1A1A1A" stroke-width="0.2">b_W1HCTHREAT_I</text>
<rect x="530.4" y="1012.5" width="17.6" height="17.4" fill="#00B9E3" fill-opacity="0.6" stroke="#000" stroke-opacity="0.85" stroke-width="0.9"/>
<text transform="translate(555.4,1025.8) scale(1,1.25)" x="0" y="0" font-size="9.3" text-anchor="start" fill="#1A1A1A" font-weight="normal" textLength="98.5" lengthAdjust="spacingAndGlyphs" stroke="#1A1A1A" stroke-width="0.2">b_W1INTERNALIZED_I</text>
<rect x="530.4" y="1031.28" width="17.6" height="17.4" fill="#619CFF" fill-opacity="0.6" stroke="#000" stroke-opacity="0.85" stroke-width="0.9"/>
<text transform="translate(555.4,1044.58) scale(1,1.25)" x="0" y="0" font-size="9.3" text-anchor="start" fill="#1A1A1A" font-weight="normal" textLength="70.8" lengthAdjust="spacingAndGlyphs" stroke="#1A1A1A" stroke-width="0.2">b_W1LIFESAT_I</text>
<rect x="530.4" y="1050.06" width="17.6" height="17.4" fill="#DB72FB" fill-opacity="0.6" stroke="#000" stroke-opacity="0.85" stroke-width="0.9"/>
<text transform="translate(555.4,1063.36) scale(1,1.25)" x="0" y="0" font-size="9.3" text-anchor="start" fill="#1A1A1A" font-weight="normal" textLength="82.8" lengthAdjust="spacingAndGlyphs" stroke="#1A1A1A" stroke-width="0.2">b_W1SOCIALWB_I</text>
<rect x="530.4" y="1068.84" width="17.6" height="17.4" fill="#FF61C3" fill-opacity="0.6" stroke="#000" stroke-opacity="0.85" stroke-width="0.9"/>
<text transform="translate(555.4,1082.14) scale(1,1.25)" x="0" y="0" font-size="9.3" text-anchor="start" fill="#1A1A1A" font-weight="normal" textLength="99" lengthAdjust="spacingAndGlyphs" stroke="#1A1A1A" stroke-width="0.2">b_W1SOCSUPPORT_I</text></svg>
</body></html>
